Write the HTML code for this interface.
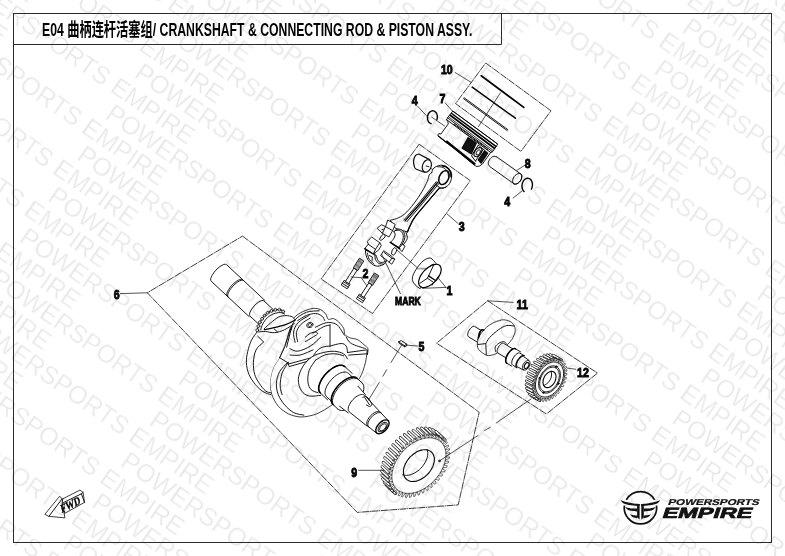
<!DOCTYPE html>
<html><head><meta charset="utf-8"><title>E04</title>
<style>
html,body{margin:0;padding:0;background:#fff;}
body{width:785px;height:556px;overflow:hidden;position:relative;font-family:"Liberation Sans","Noto Sans CJK SC",sans-serif;}
svg{position:absolute;left:0;top:0;}
.dw path{fill:none;stroke:#0c0c0c;stroke-width:0.95;stroke-linejoin:round;stroke-linecap:round;}
.dw path.lw{fill:#fff;}
.dw path.f{fill:#111;}
.dw path.k{stroke:#000;}
.dw path.bx{stroke:#1a1a1a;stroke-width:0.85;stroke-dasharray:7 0.6 1.2 0.6;stroke-linecap:butt;}
.dw path.ld{stroke:#1a1a1a;stroke-width:0.75;}
.dw path.cl{stroke:#1a1a1a;stroke-width:0.75;stroke-dasharray:20 8.5 8 8.5;stroke-linecap:butt;}
.dw text.lb{font-family:"Liberation Sans",sans-serif;font-weight:bold;fill:#000;stroke:#000;stroke-width:0.9px;}
.wm text{font-family:"Liberation Sans",sans-serif;font-size:25px;fill:#000;stroke:#fff;stroke-width:0.35px;}
.wm{opacity:0.095;}
</style></head><body>
<svg width="785" height="556" viewBox="0 0 785 556" style="opacity:0.999">
<g fill="none" stroke="#2a2a2a" stroke-width="1">
<rect x="13.5" y="13.5" width="758" height="529"/>
<path d="M13.5 44.5H501.5V13.5"/>
</g>
<text id="title" transform="translate(42,36) scale(0.662,1)" font-family="'Liberation Sans','Noto Sans CJK SC',sans-serif" font-size="18.5" font-weight="bold" fill="#000">E04 曲柄连杆活塞组/ CRANKSHAFT &amp; CONNECTING ROD &amp; PISTON ASSY.</text>
<g class="dw">
<path class="bx" d="M485.7 63.0 L551.0 110.8 L520.9 151.4 L455.6 103.6Z" />
<path class="bx" d="M419.1 144.2 L470.3 180.7 L372.5 313.5 L321.1 279.0Z" />
<path class="bx" d="M242.5 236.1 L479.2 412.3 L458.2 504.9 L357.2 512.4 L147.3 292.8Z" />
<path class="bx" d="M487.7 300.8 L597.5 373.1 L546.4 414.0 L436.6 343.2Z" />
<path class="k" d="M481.2 75.8 L523.8 107.4" style="stroke-width:1.7"/>
<path class="k" d="M472.2 87.1 L515.4 118.2" style="stroke-width:1.5"/>
<path class="l" d="M464.1 97.7 L507.8 129.6" />
<path class="l" d="M463.5 98.7 L507.2 130.6" />
<path class="ld" d="M500.4 92.8 L478.5 126.5" />
<path class="k" d="M431.1 123.7 C430.9 123.6 430.5 123.5 430.3 123.3 C430.0 123.2 429.8 123.0 429.5 122.8 C429.3 122.7 429.1 122.4 428.9 122.2 C428.7 121.9 428.5 121.7 428.3 121.4 C428.2 121.1 428.0 120.8 427.9 120.4 C427.8 120.1 427.7 119.8 427.6 119.4 C427.5 119.0 427.5 118.7 427.5 118.3 C427.5 117.9 427.5 117.6 427.5 117.2 C427.5 116.8 427.6 116.4 427.6 116.1 C427.7 115.7 427.8 115.3 427.9 115.0 C428.1 114.6 428.2 114.3 428.4 114.0 C428.6 113.6 428.7 113.3 428.9 113.0 C429.1 112.8 429.4 112.5 429.6 112.3 C429.8 112.0 430.1 111.8 430.4 111.6 C430.6 111.5 430.9 111.3 431.2 111.2 C431.4 111.1 431.7 111.0 432.0 110.9 C432.3 110.8 432.6 110.8 432.9 110.8 C433.2 110.8 433.4 110.9 433.7 110.9 C434.0 111.0 434.3 111.1 434.5 111.3 C434.8 111.4 435.0 111.6 435.3 111.8 C435.5 111.9 435.7 112.2 435.9 112.4 C436.1 112.7 436.3 112.9 436.5 113.2 C436.6 113.5 436.8 113.8 436.9 114.2 C437.0 114.5 437.1 114.8 437.2 115.2 C437.3 115.6 437.3 115.9 437.3 116.3 C437.3 116.7 437.3 117.0 437.3 117.4 C437.3 117.8 437.2 118.2 437.2 118.5 C437.1 118.9 436.9 119.4 436.9 119.6" style="stroke-width:1.4"/>
<path class="k" d="M524.1 191.6 C524.0 191.4 523.6 191.1 523.4 190.8 C523.2 190.6 523.0 190.3 522.9 189.9 C522.7 189.6 522.5 189.3 522.4 188.9 C522.3 188.5 522.2 188.1 522.1 187.8 C522.0 187.4 522.0 187.0 522.0 186.5 C521.9 186.1 522.0 185.7 522.0 185.3 C522.0 184.9 522.1 184.5 522.2 184.1 C522.2 183.7 522.4 183.2 522.5 182.9 C522.6 182.5 522.8 182.1 523.0 181.7 C523.1 181.4 523.3 181.0 523.6 180.7 C523.8 180.4 524.0 180.1 524.3 179.8 C524.5 179.6 524.8 179.3 525.1 179.1 C525.3 178.9 525.6 178.8 525.9 178.6 C526.2 178.5 526.5 178.4 526.8 178.3 C527.1 178.3 527.4 178.2 527.7 178.2 C528.1 178.2 528.4 178.3 528.6 178.4 C528.9 178.4 529.2 178.6 529.5 178.7 C529.8 178.8 530.0 179.0 530.3 179.2 C530.5 179.5 530.8 179.7 531.0 180.0 C531.2 180.2 531.4 180.5 531.5 180.9 C531.7 181.2 531.9 181.5 532.0 181.9 C532.1 182.3 532.2 182.7 532.3 183.0 C532.4 183.4 532.4 183.8 532.4 184.3 C532.5 184.7 532.4 185.1 532.4 185.5 C532.4 185.9 532.3 186.3 532.2 186.7 C532.2 187.1 532.0 187.6 531.9 187.9 C531.8 188.3 531.5 188.9 531.4 189.1" style="stroke-width:1.4"/>
<path class="lw" d="M496.7 156.8 L520.7 173.9 L520.7 173.9 C520.8 174.0 521.2 174.3 521.4 174.6 C521.6 174.9 521.7 175.3 521.8 175.6 C521.9 176.0 521.9 176.4 521.8 176.9 C521.8 177.3 521.7 177.8 521.6 178.2 C521.5 178.7 521.3 179.2 521.1 179.6 C520.8 180.1 520.6 180.5 520.3 181.0 C520.0 181.4 519.6 181.8 519.3 182.1 C518.9 182.5 518.5 182.8 518.1 183.1 C517.7 183.4 517.3 183.6 516.9 183.8 C516.5 183.9 516.1 184.1 515.7 184.1 C515.4 184.2 515.0 184.1 514.7 184.1 C514.3 184.0 513.9 183.7 513.8 183.7 L489.7 166.5 L489.7 166.5 C489.5 166.0 488.2 164.4 488.2 163.2 C488.2 162.0 489.0 160.4 489.8 159.2 C490.6 158.1 491.9 156.8 493.1 156.4 C494.2 156.0 496.1 156.7 496.7 156.8" />
<path class="k" d="M513.8 183.7 C513.9 183.7 514.3 184.0 514.7 184.1 C515.0 184.1 515.4 184.2 515.7 184.1 C516.1 184.1 516.5 183.9 516.9 183.8 C517.3 183.6 517.7 183.4 518.1 183.1 C518.5 182.8 518.9 182.5 519.3 182.1 C519.6 181.8 520.0 181.4 520.3 181.0 C520.6 180.5 520.8 180.1 521.1 179.6 C521.3 179.2 521.5 178.7 521.6 178.2 C521.7 177.8 521.8 177.3 521.8 176.9 C521.9 176.4 521.9 176.0 521.8 175.6 C521.7 175.3 521.6 174.9 521.4 174.6 C521.2 174.3 521.0 174.1 520.7 173.9 C520.5 173.7 520.2 173.6 519.8 173.5 C519.5 173.4 519.1 173.4 518.7 173.5 C518.4 173.5 518.0 173.6 517.6 173.8 C517.2 174.0 516.8 174.2 516.4 174.5 C516.0 174.8 515.6 175.1 515.2 175.4 C514.9 175.8 514.5 176.2 514.2 176.6 C513.9 177.1 513.6 177.5 513.4 178.0 C513.2 178.4 513.0 178.9 512.9 179.4 C512.8 179.8 512.7 180.3 512.6 180.7 C512.6 181.1 512.6 181.6 512.7 181.9 C512.8 182.3 512.9 182.7 513.1 183.0 C513.3 183.2 513.6 183.6 513.8 183.7 C513.9 183.8 513.6 183.6 513.8 183.7Z" style="stroke-width:1"/>
<path class="lw" d="M453.1 111.3 L496.8 143.4 L497.4 144.8 L492.3 152.0 L490.9 152.2 L482.5 163.9 L479.5 166.1 L476.1 166.4 L459.8 152.9 L439.2 137.0 L437.9 135.7 L438.2 134.1 L438.9 133.6 L440.8 134.1 L448.3 123.9 L447.8 121.6 L446.6 119.7 L447.3 118.2Z" />
<path class="k" d="M453.1 111.3 L497.6 144.0" style="stroke-width:0.9"/>
<path class="k" d="M451.7 113.5 L495.9 146.3" style="stroke-width:1.5"/>
<path class="k" d="M450.2 115.2 L494.4 148.3" style="stroke-width:1.7"/>
<path class="k" d="M448.6 116.9 L493.0 150.3" style="stroke-width:0.8"/>
<path class="l" d="M447.6 117.9 L492.1 151.5" />
<path class="k" d="M446.8 119.8 L490.7 152.5" style="stroke-width:1.0"/>
<path class="k" d="M453.9 123.8 L488.4 149.7" style="stroke-width:1.3;stroke-dasharray:1.2 0.6;stroke-linecap:butt"/>
<path class="k" d="M446.1 141.1 L475.1 164.5" style="stroke-width:2.4;stroke-linecap:butt"/>
<path class="k" d="M438.6 136.1 L447.2 143.0" style="stroke-width:1.1"/>
<path class="f" d="M468.2 137.8 L476.1 143.1 L471.2 153.6 L462.3 148.1Z" style="stroke-width:1.6"/>
<path class="f" d="M484.6 150.8 L487.6 153.2 L481.1 163.1 L478.3 159.8Z" style="stroke-width:1.4"/>
<path class="k" d="M474.9 156.3 C475.1 156.4 475.6 156.7 476.1 156.7 C476.5 156.7 477.0 156.6 477.5 156.4 C478.1 156.2 478.6 155.8 479.1 155.4 C479.6 155.0 480.1 154.5 480.5 154.0 C480.9 153.4 481.2 152.8 481.4 152.2 C481.7 151.7 481.9 151.0 481.9 150.5 C482.0 149.9 481.9 149.4 481.8 149.0 C481.6 148.5 481.3 148.2 481.0 147.9 C480.7 147.7 480.3 147.6 479.8 147.6 C479.4 147.5 478.9 147.7 478.3 147.9 C477.8 148.1 477.3 148.4 476.8 148.8 C476.3 149.2 475.8 149.8 475.4 150.3 C475.0 150.8 474.7 151.4 474.4 152.0 C474.2 152.6 474.0 153.2 474.0 153.8 C473.9 154.3 474.0 154.9 474.1 155.3 C474.3 155.7 474.7 156.2 474.9 156.3 C475.0 156.5 474.7 156.3 474.9 156.3Z" style="stroke-width:1.1"/>
<path class="k" d="M476.6 154.6 C476.8 154.7 477.2 154.9 477.5 154.8 C477.8 154.8 478.3 154.6 478.6 154.4 C479.0 154.1 479.3 153.7 479.6 153.4 C479.9 153.0 480.1 152.5 480.3 152.1 C480.4 151.7 480.4 151.2 480.4 150.9 C480.3 150.6 480.2 150.3 479.9 150.1 C479.7 149.9 479.4 149.9 479.0 149.9 C478.7 150.0 478.3 150.1 477.9 150.4 C477.6 150.6 477.2 151.0 476.9 151.4 C476.6 151.8 476.4 152.2 476.3 152.6 C476.1 153.0 476.1 153.5 476.2 153.8 C476.2 154.2 476.5 154.5 476.6 154.6 C476.7 154.8 476.5 154.6 476.6 154.6Z" style="stroke-width:1.0"/>
<path class="k" d="M478.3 145.1 L471.5 155.8 L475.8 161.5" style="stroke-width:1.0"/>
<path class="l" d="M478.5 145.2 L484.7 150.4" />
<path class="k" d="M483.1 149.5 L475.7 160.8" style="stroke-width:0.9"/>
<path class="lw" d="M418.8 154.0 C418.3 154.3 416.5 154.3 415.6 155.4 C414.7 156.6 413.7 159.1 413.5 161.0 C413.3 163.0 414.2 166.0 414.6 167.4 C415.1 168.7 416.0 168.9 416.3 169.2 L424.4 172.3 L429.6 159.6Z" style="stroke-width:1.2"/>
<path class="lw" d="M430.9 167.4 C430.6 168.1 430.3 168.8 429.9 169.4 C429.5 170.0 429.0 170.5 428.5 170.9 C428.0 171.4 427.5 171.7 427.0 171.9 C426.4 172.1 425.9 172.2 425.4 172.1 C424.9 172.1 424.4 171.9 424.0 171.6 C423.6 171.3 423.2 170.9 422.9 170.4 C422.6 169.9 422.4 169.3 422.3 168.7 C422.2 168.1 422.2 167.3 422.3 166.6 C422.4 165.9 422.5 165.2 422.8 164.5 C423.0 163.8 423.4 163.1 423.8 162.5 C424.2 161.9 424.7 161.4 425.1 161.0 C425.6 160.5 426.2 160.2 426.7 160.0 C427.2 159.8 427.8 159.7 428.3 159.8 C428.8 159.8 429.3 160.0 429.7 160.3 C430.1 160.6 430.5 161.0 430.7 161.5 C431.0 162.0 431.2 162.6 431.3 163.2 C431.4 163.9 431.4 164.6 431.4 165.3 C431.3 166.0 431.1 166.7 430.9 167.4Z" style="stroke-width:1.1;stroke:#000"/>
<path class="l" d="M426.1 166.0 L428.9 166.7" />
<path class="ld" d="M430.3 168.1 L435.9 171.1" />
<path class="lw" d="M431.7 172.6 C432.1 171.8 432.4 169.3 433.8 168.1 C435.2 166.8 438.1 165.5 440.2 165.3 C442.3 165.0 444.6 165.5 446.5 166.7 C448.3 167.8 450.3 170.3 451.1 172.3 C451.9 174.3 451.8 176.5 451.4 178.6 C451.0 180.7 450.0 183.3 448.6 184.9 C447.2 186.5 443.9 187.8 443.0 188.4 L439.3 188.1 L439.3 188.1 C437.4 190.3 432.3 196.3 428.2 201.2 C424.1 206.0 417.9 213.0 414.9 217.1 C411.9 221.1 411.5 222.8 410.3 225.3 C409.0 227.8 407.9 230.9 407.5 232.0 L395.4 228.3 L390.3 220.1 L390.3 220.1 C391.3 219.9 394.0 219.6 396.4 218.6 C398.8 217.6 401.7 216.5 404.6 214.0 C407.5 211.5 410.9 207.5 413.8 203.7 C416.8 200.0 419.8 195.2 422.1 191.4 C424.3 187.6 426.2 183.9 427.4 181.2 C428.6 178.4 428.5 176.4 429.2 175.0 C430.0 173.6 431.3 173.0 431.7 172.6Z" />
<path class="k" d="M439.3 188.1 C437.4 190.3 432.3 196.3 428.2 201.2 C424.1 206.0 417.9 213.0 414.9 217.1 C411.9 221.1 411.5 222.8 410.3 225.3 C409.0 227.8 407.9 230.9 407.5 232.0" style="stroke-width:1.3"/>
<path class="lw" d="M448.1 179.5 C447.8 180.3 447.3 181.1 446.8 181.7 C446.3 182.3 445.7 182.9 445.2 183.3 C444.6 183.8 443.9 184.1 443.4 184.3 C442.8 184.5 442.2 184.5 441.6 184.5 C441.1 184.4 440.6 184.1 440.2 183.8 C439.8 183.4 439.4 182.9 439.2 182.4 C439.0 181.8 438.8 181.1 438.8 180.4 C438.7 179.6 438.8 178.8 439.0 178.0 C439.1 177.3 439.4 176.4 439.8 175.7 C440.1 174.9 440.6 174.1 441.1 173.5 C441.6 172.9 442.2 172.3 442.7 171.9 C443.3 171.4 443.9 171.1 444.5 170.9 C445.1 170.7 445.7 170.7 446.3 170.8 C446.8 170.8 447.3 171.1 447.7 171.4 C448.1 171.8 448.5 172.3 448.7 172.8 C448.9 173.4 449.1 174.1 449.1 174.8 C449.2 175.6 449.1 176.4 448.9 177.2 C448.7 178.0 448.5 178.8 448.1 179.5Z" style="stroke-width:1.5;stroke:#000"/>
<path class="l" d="M437.3 166.7 C438.3 166.8 441.3 166.7 443.0 167.5 C444.6 168.3 446.5 169.8 447.5 171.6 C448.4 173.3 448.4 176.8 448.6 177.9" />
<path class="k" d="M442.3 165.8 C443.0 166.1 445.5 166.3 446.9 167.4 C448.3 168.4 449.8 170.4 450.5 172.0 C451.2 173.6 451.0 176.0 451.1 176.8" style="stroke-width:1.6"/>
<path class="l" d="M435.9 184.6 C436.6 185.1 438.5 187.2 440.2 187.7 C441.8 188.2 444.8 187.5 445.8 187.4" />
<path class="k" d="M437.6 182.4 L421.0 202.7 L405.1 220.9" style="stroke-width:1.4"/>
<path class="l" d="M439.0 183.4 L422.3 203.7 L406.9 221.7" />
<path class="l" d="M436.2 181.8 L419.8 201.9 L403.8 220.1" />
<path class="lw" d="M377.4 228.1 L381.3 224.7 L385.5 226.6 L387.8 220.0 L395.2 224.3 L392.9 230.1 L389.0 237.0 L382.4 233.2Z" style="stroke-width:0.9"/>
<path class="l" d="M385.5 226.6 L392.5 230.5" />
<path class="k" d="M382.0 229.7 L383.2 229.2" style="stroke-width:1"/>
<path class="l" d="M385.5 226.6 L382.4 233.2" />
<path class="lw" d="M394.0 231.6 C394.4 231.3 395.3 230.1 396.3 229.7 C397.4 229.3 399.0 228.9 400.2 229.3 C401.4 229.7 402.9 230.7 403.7 232.0 C404.5 233.4 405.0 235.6 404.9 237.4 C404.7 239.2 403.8 241.1 402.9 242.8 C402.0 244.6 400.0 247.0 399.4 247.9 L390.5 242.5 L390.5 242.5 C391.1 241.7 393.3 239.6 394.0 238.2 C394.8 236.8 395.2 235.4 395.2 234.3 C395.2 233.2 394.2 232.1 394.0 231.6Z" style="stroke-width:1"/>
<path class="l" d="M395.2 230.5 C395.9 230.5 398.2 230.0 399.4 230.5 C400.7 230.9 401.9 232.0 402.5 233.2 C403.2 234.4 403.5 236.1 403.3 237.8 C403.1 239.5 402.2 241.7 401.4 243.2 C400.6 244.8 399.1 246.5 398.7 247.1" />
<path class="k" d="M405.6 231.6 C405.9 232.6 407.3 235.8 407.3 237.4 C407.3 239.1 406.5 240.3 405.6 241.7 C404.8 243.1 402.9 245.2 402.4 245.9" style="stroke-width:1"/>
<path class="lw" d="M399.1 247.9 L402.2 244.4 L405.1 246.1 L402.2 251.3Z" style="stroke-width:0.9"/>
<path class="k" d="M390.3 242.3 L399.6 248.6" style="stroke-width:1.6"/>
<path class="lw" d="M382.0 235.3 L383.6 234.3 L385.5 235.9 L384.0 238.2 L380.9 240.5 L379.7 239.6Z" />
<path class="lw" d="M392.5 249.8 L394.4 247.5 L397.1 249.4 L395.2 253.7 L393.3 255.2 L391.7 254.1Z" />
<path class="lw" d="M367.4 241.2 L371.7 237.0 L379.8 242.8 L381.3 245.5 L378.6 250.1 L373.2 254.0 L364.7 248.6 L368.2 244.3Z" style="stroke-width:0.9"/>
<path class="l" d="M368.2 244.3 L375.5 249.3 L379.8 242.8" />
<path class="l" d="M375.5 249.3 L373.2 254.0" />
<path class="k" d="M364.7 248.7 L373.2 254.1" style="stroke-width:1.5"/>
<path class="lw" d="M365.5 250.3 C365.5 251.0 365.4 253.1 365.9 254.7 C366.3 256.4 367.1 258.6 368.2 260.2 C369.3 261.8 370.8 263.4 372.4 264.4 C374.0 265.4 375.9 266.2 377.8 266.2 C379.8 266.2 383.0 264.7 384.0 264.4 L387.1 260.2 L387.1 260.2 C386.3 260.5 384.0 262.4 382.5 262.5 C381.0 262.6 379.3 262.1 378.2 260.9 C377.2 259.8 376.6 256.4 376.3 255.5 L373.2 254.1Z" style="stroke-width:1"/>
<path class="l" d="M374.7 253.2 C374.9 254.2 374.9 257.7 375.5 259.4 C376.2 261.1 377.3 262.5 378.6 263.3 C379.9 264.0 382.5 263.9 383.3 264.0" />
<path class="l" d="M367.4 253.2 C367.7 254.2 368.2 257.6 369.3 259.4 C370.4 261.2 373.2 263.3 374.0 264.0" />
<path class="l" d="M369.3 255.5 L372.4 257.1 L372.0 260.9" />
<path class="lw" d="M384.0 250.9 L391.8 256.3 L394.7 259.2 L391.8 264.2 L389.1 262.3 L387.1 260.3 L380.9 255.9Z" style="stroke-width:0.9"/>
<path class="l" d="M389.1 262.3 L391.8 258.2 L394.7 259.2" />
<path class="l" d="M391.8 258.2 L384.0 252.4" />
<path class="lw" d="M435.9 263.3 C435.0 262.4 432.5 258.7 430.5 258.1 C428.6 257.6 426.3 258.8 424.3 260.1 C422.4 261.3 420.7 263.3 418.9 265.5 C417.2 267.7 415.0 270.9 413.9 273.2 C412.8 275.5 412.2 277.5 412.3 279.4 C412.5 281.3 413.8 283.3 415.1 284.8 C416.3 286.3 419.2 288.0 420.1 288.7 L429.7 275.9Z" />
<path class="lw" d="M439.7 265.5 C440.2 266.0 440.6 266.6 440.8 267.2 C441.1 267.9 441.2 268.7 441.2 269.5 C441.2 270.4 441.0 271.3 440.8 272.3 C440.5 273.2 440.1 274.2 439.6 275.2 C439.1 276.2 438.5 277.3 437.8 278.3 C437.1 279.2 436.3 280.2 435.4 281.1 C434.6 282.0 433.6 282.9 432.7 283.6 C431.8 284.4 430.7 285.1 429.8 285.6 C428.8 286.2 427.8 286.6 426.9 286.9 C425.9 287.3 425.0 287.5 424.2 287.5 C423.3 287.6 422.5 287.5 421.8 287.3 C421.2 287.1 420.6 286.7 420.1 286.3 C419.6 285.8 419.2 285.3 419.0 284.6 C418.7 283.9 418.6 283.1 418.6 282.3 C418.6 281.5 418.8 280.5 419.1 279.6 C419.3 278.6 419.7 277.6 420.2 276.6 C420.7 275.6 421.3 274.5 422.0 273.6 C422.7 272.6 423.5 271.6 424.4 270.7 C425.2 269.8 426.2 268.9 427.1 268.2 C428.1 267.4 429.1 266.7 430.0 266.2 C431.0 265.6 432.0 265.2 432.9 264.9 C433.9 264.6 434.8 264.4 435.7 264.3 C436.5 264.2 437.3 264.3 438.0 264.5 C438.6 264.7 439.3 265.1 439.7 265.5Z" style="stroke-width:1.2;stroke:#000"/>
<path class="l" d="M434.0 264.3 L428.6 275.9" />
<path class="k" d="M428.6 275.9 L435.5 280.5" style="stroke-width:1.3"/>
<path class="l" d="M435.5 280.5 L439.0 275.5" />
<path class="l" d="M419.8 283.4 L427.4 278.2 L433.8 282.5 L432.1 285.2" />
<path class="l" d="M427.4 278.2 L428.6 275.9" />
<path class="l" d="M425.5 269.3 L433.2 264.3" />
<path class="k" d="M417.4 268.6 L426.7 268.6" style="stroke-width:1.6;stroke-dasharray:0.5 0.4;stroke-linecap:butt;stroke:#555"/>
<path class="lw" d="M341.4 284.7 L344.2 280.3 L350.2 284.1 L347.4 288.5Z" style="stroke-width:0.9"/>
<path class="l" d="M342.2 283.3 L348.3 287.2" />
<path class="l" d="M343.3 281.6 L349.4 285.5" />
<path class="lw" d="M345.6 281.2 L354.1 267.9 L357.3 269.9 L348.8 283.2Z" />
<path class="lw" d="M353.5 267.5 L359.4 258.2 L363.8 261.0 L357.9 270.3Z" />
<path class="k" d="M355.7 268.9 L361.6 259.6" style="stroke-width:4.6;stroke-dasharray:0.5 0.45;stroke-linecap:butt;stroke:#333"/>
<path class="lw" d="M356.6 298.4 L359.4 294.1 L365.5 298.0 L362.6 302.4Z" style="stroke-width:0.9"/>
<path class="l" d="M357.5 297.1 L363.5 301.0" />
<path class="l" d="M358.6 295.4 L364.6 299.4" />
<path class="lw" d="M360.9 295.0 L369.0 282.6 L372.2 284.6 L364.0 297.1Z" />
<path class="lw" d="M368.4 282.2 L374.4 273.0 L378.8 275.8 L372.8 285.0Z" />
<path class="k" d="M370.6 283.6 L376.6 274.4" style="stroke-width:4.6;stroke-dasharray:0.5 0.45;stroke-linecap:butt;stroke:#333"/>
<path class="lw" d="M291.1 327.6 C289.7 331.9 286.4 342.0 284.7 346.5 C283.0 351.0 281.3 354.5 279.6 357.7 C277.9 360.9 274.6 364.2 273.2 367.9 C271.8 371.5 270.2 377.9 270.0 381.9 C269.8 386.0 270.7 391.1 271.9 394.7 C273.2 398.3 275.8 403.3 278.3 406.2 C280.8 409.1 285.1 412.2 288.5 413.9 C292.0 415.5 297.1 417.0 301.3 417.0 C305.5 417.0 312.0 415.7 316.6 413.9 C321.2 412.0 327.5 408.2 332.0 404.9 C336.4 401.7 342.0 396.2 346.2 392.1 C350.3 388.1 356.7 382.5 359.6 378.1 C362.5 373.7 364.2 367.0 365.4 362.8 C366.5 358.6 367.0 351.2 367.3 350.0 C367.6 348.8 367.2 355.2 367.3 355.0 C367.4 354.8 368.4 350.2 367.9 348.6 C367.4 347.1 365.6 346.1 364.1 344.8 C362.5 343.5 359.8 340.8 357.7 339.7 C355.6 338.6 351.9 338.6 350.0 337.8 C348.1 337.0 345.9 336.0 344.9 334.6 C344.0 333.2 344.6 330.1 343.6 328.2 C342.7 326.3 340.1 323.3 338.5 321.8 C337.0 320.4 335.0 319.0 333.4 318.6 C331.9 318.2 329.5 319.9 328.3 319.3 C327.2 318.6 326.9 315.6 325.8 314.2 C324.6 312.7 322.6 310.5 320.7 309.7 C318.7 308.8 315.7 308.1 313.0 308.4 C310.3 308.7 305.6 310.2 302.8 311.6 C299.9 313.0 295.6 315.6 293.8 318.0 C292.1 320.4 292.5 323.3 291.1 327.6Z" style="stroke-width:0.8"/>
<path class="lw" d="M264.6 300.2 L226.6 264.7 L226.6 264.7 C226.4 264.6 226.0 264.3 225.6 264.3 C225.2 264.2 224.7 264.3 224.1 264.4 C223.5 264.6 222.9 264.8 222.3 265.2 C221.6 265.5 220.9 265.9 220.2 266.4 C219.5 266.9 218.7 267.5 218.0 268.1 C217.3 268.8 216.6 269.5 215.9 270.2 C215.3 270.9 214.6 271.7 214.0 272.4 C213.5 273.2 212.9 274.0 212.5 274.7 C212.0 275.4 211.6 276.2 211.4 276.8 C211.1 277.5 210.9 278.2 210.7 278.7 C210.6 279.3 210.6 279.8 210.7 280.2 C210.8 280.6 211.1 281.1 211.2 281.2 L249.2 316.7Z" style="stroke:none"/>
<path class="l" d="M264.6 300.2 L226.6 264.7 L226.6 264.7 C226.4 264.6 226.0 264.3 225.6 264.3 C225.2 264.2 224.7 264.3 224.1 264.4 C223.5 264.6 222.9 264.8 222.3 265.2 C221.6 265.5 220.9 265.9 220.2 266.4 C219.5 266.9 218.7 267.5 218.0 268.1 C217.3 268.8 216.6 269.5 215.9 270.2 C215.3 270.9 214.6 271.7 214.0 272.4 C213.5 273.2 212.9 274.0 212.5 274.7 C212.0 275.4 211.6 276.2 211.4 276.8 C211.1 277.5 210.9 278.2 210.7 278.7 C210.6 279.3 210.6 279.8 210.7 280.2 C210.8 280.6 211.1 281.1 211.2 281.2 L249.2 316.7" />
<path class="l" d="M227.3 296.2 C227.2 296.1 226.9 295.6 226.8 295.2 C226.7 294.8 226.7 294.3 226.8 293.7 C226.9 293.2 227.2 292.5 227.4 291.8 C227.7 291.2 228.1 290.4 228.6 289.7 C229.0 289.0 229.6 288.2 230.1 287.4 C230.7 286.7 231.4 285.9 232.0 285.2 C232.7 284.5 233.4 283.8 234.1 283.1 C234.8 282.5 235.6 281.9 236.3 281.4 C237.0 280.9 237.7 280.5 238.3 280.2 C239.0 279.8 239.6 279.6 240.2 279.4 C240.7 279.3 241.3 279.2 241.7 279.3 C242.1 279.3 242.5 279.6 242.7 279.7" />
<path class="l" d="M228.2 297.1 C228.2 296.9 227.8 296.5 227.7 296.1 C227.7 295.7 227.7 295.2 227.8 294.6 C227.9 294.1 228.1 293.4 228.4 292.7 C228.7 292.1 229.1 291.3 229.5 290.6 C230.0 289.8 230.5 289.1 231.1 288.3 C231.7 287.6 232.3 286.8 233.0 286.1 C233.6 285.4 234.4 284.7 235.1 284.0 C235.8 283.4 236.5 282.8 237.2 282.3 C237.9 281.8 238.6 281.4 239.3 281.0 C239.9 280.7 240.6 280.5 241.1 280.3 C241.7 280.2 242.2 280.1 242.6 280.2 C243.0 280.2 243.5 280.5 243.7 280.6" />
<path class="lw" d="M272.7 309.1 L264.0 300.9 L264.0 300.9 C263.8 300.8 263.4 300.5 263.0 300.5 C262.6 300.5 262.2 300.5 261.7 300.6 C261.2 300.8 260.6 301.0 260.0 301.3 C259.4 301.6 258.7 302.0 258.1 302.5 C257.5 302.9 256.8 303.5 256.1 304.0 C255.5 304.6 254.8 305.2 254.2 305.9 C253.6 306.5 253.0 307.2 252.5 307.9 C252.0 308.6 251.5 309.3 251.1 310.0 C250.7 310.7 250.3 311.3 250.1 312.0 C249.8 312.6 249.6 313.2 249.5 313.7 C249.4 314.2 249.4 314.7 249.5 315.0 C249.5 315.4 249.8 315.8 249.9 316.0 L258.7 324.1Z" style="stroke:none"/>
<path class="l" d="M272.7 309.1 L264.0 300.9 L264.0 300.9 C263.8 300.8 263.4 300.5 263.0 300.5 C262.6 300.5 262.2 300.5 261.7 300.6 C261.2 300.8 260.6 301.0 260.0 301.3 C259.4 301.6 258.7 302.0 258.1 302.5 C257.5 302.9 256.8 303.5 256.1 304.0 C255.5 304.6 254.8 305.2 254.2 305.9 C253.6 306.5 253.0 307.2 252.5 307.9 C252.0 308.6 251.5 309.3 251.1 310.0 C250.7 310.7 250.3 311.3 250.1 312.0 C249.8 312.6 249.6 313.2 249.5 313.7 C249.4 314.2 249.4 314.7 249.5 315.0 C249.5 315.4 249.8 315.8 249.9 316.0 L258.7 324.1" />
<path class="lw" d="M257.2 330.2 C257.6 329.1 258.2 325.7 259.2 323.5 C260.1 321.4 261.6 319.2 263.0 317.4 C264.4 315.6 265.8 314.1 267.5 312.9 C269.2 311.8 271.3 310.8 273.2 310.3 C275.1 309.7 277.3 309.3 279.0 309.5 C280.6 309.7 282.5 311.2 283.2 311.5 L291.1 318.4 L265.5 328.7Z" style="stroke:none"/>
<path class="k" d="M257.2 330.2 C257.6 329.1 258.2 325.7 259.2 323.5 C260.1 321.4 261.6 319.2 263.0 317.4 C264.4 315.6 265.8 314.1 267.5 312.9 C269.2 311.8 271.3 310.8 273.2 310.3 C275.1 309.7 277.3 309.3 279.0 309.5 C280.6 309.7 282.5 311.2 283.2 311.5" style="stroke-width:1.0"/>
<path class="lw" d="M258.7 330.2 C258.7 330.5 258.5 331.0 258.3 331.2 C258.0 331.5 257.6 331.6 257.2 331.6 C256.9 331.6 256.5 331.5 256.2 331.2 C256.0 331.0 255.8 330.5 255.8 330.2 C255.8 329.8 256.0 329.4 256.2 329.2 C256.5 328.9 256.9 328.7 257.2 328.7 C257.6 328.7 258.0 328.9 258.3 329.2 C258.5 329.4 258.7 329.8 258.7 330.2Z" style="stroke-width:0.9;stroke:#111;fill:#ddd"/>
<path class="lw" d="M259.8 326.2 C259.8 326.5 259.6 327.0 259.3 327.2 C259.1 327.4 258.7 327.6 258.3 327.6 C258.0 327.6 257.5 327.4 257.3 327.2 C257.0 327.0 256.9 326.5 256.9 326.2 C256.9 325.8 257.0 325.4 257.3 325.2 C257.5 324.9 258.0 324.7 258.3 324.7 C258.7 324.7 259.1 324.9 259.3 325.2 C259.6 325.4 259.8 325.8 259.8 326.2Z" style="stroke-width:0.9;stroke:#111;fill:#ddd"/>
<path class="lw" d="M261.3 322.3 C261.3 322.7 261.1 323.1 260.9 323.4 C260.6 323.6 260.2 323.8 259.8 323.8 C259.5 323.8 259.1 323.6 258.8 323.4 C258.6 323.1 258.4 322.7 258.4 322.3 C258.4 322.0 258.6 321.5 258.8 321.3 C259.1 321.1 259.5 320.9 259.8 320.9 C260.2 320.9 260.6 321.1 260.9 321.3 C261.1 321.5 261.3 322.0 261.3 322.3Z" style="stroke-width:0.9;stroke:#111;fill:#ddd"/>
<path class="lw" d="M263.5 318.8 C263.5 319.2 263.3 319.6 263.0 319.8 C262.8 320.1 262.4 320.3 262.0 320.3 C261.7 320.3 261.2 320.1 261.0 319.8 C260.8 319.6 260.6 319.2 260.6 318.8 C260.6 318.5 260.8 318.0 261.0 317.8 C261.2 317.5 261.7 317.4 262.0 317.4 C262.4 317.4 262.8 317.5 263.0 317.8 C263.3 318.0 263.5 318.5 263.5 318.8Z" style="stroke-width:0.9;stroke:#111;fill:#ddd"/>
<path class="lw" d="M266.1 315.6 C266.1 315.9 265.9 316.4 265.6 316.6 C265.4 316.9 265.0 317.0 264.6 317.0 C264.3 317.0 263.8 316.9 263.6 316.6 C263.4 316.4 263.2 315.9 263.2 315.6 C263.2 315.2 263.4 314.8 263.6 314.6 C263.8 314.3 264.3 314.1 264.6 314.1 C265.0 314.1 265.4 314.3 265.6 314.6 C265.9 314.8 266.1 315.2 266.1 315.6Z" style="stroke-width:0.9;stroke:#111;fill:#ddd"/>
<path class="lw" d="M269.1 312.8 C269.1 313.2 269.0 313.6 268.7 313.8 C268.5 314.1 268.0 314.3 267.7 314.3 C267.4 314.3 266.9 314.1 266.7 313.8 C266.4 313.6 266.2 313.2 266.2 312.8 C266.2 312.5 266.4 312.0 266.7 311.8 C266.9 311.5 267.4 311.4 267.7 311.4 C268.0 311.4 268.5 311.5 268.7 311.8 C269.0 312.0 269.1 312.5 269.1 312.8Z" style="stroke-width:0.9;stroke:#111;fill:#ddd"/>
<path class="lw" d="M272.9 311.0 C272.9 311.3 272.7 311.7 272.4 312.0 C272.2 312.2 271.7 312.4 271.4 312.4 C271.1 312.4 270.6 312.2 270.4 312.0 C270.1 311.7 270.0 311.3 270.0 311.0 C270.0 310.6 270.1 310.2 270.4 309.9 C270.6 309.7 271.1 309.5 271.4 309.5 C271.7 309.5 272.2 309.7 272.4 309.9 C272.7 310.2 272.9 310.6 272.9 311.0Z" style="stroke-width:0.9;stroke:#111;fill:#ddd"/>
<path class="lw" d="M276.8 309.9 C276.8 310.2 276.7 310.6 276.4 310.9 C276.2 311.1 275.7 311.3 275.4 311.3 C275.0 311.3 274.6 311.1 274.4 310.9 C274.1 310.6 273.9 310.2 273.9 309.9 C273.9 309.5 274.1 309.1 274.4 308.8 C274.6 308.6 275.0 308.4 275.4 308.4 C275.7 308.4 276.2 308.6 276.4 308.8 C276.7 309.1 276.8 309.5 276.8 309.9Z" style="stroke-width:0.9;stroke:#111;fill:#ddd"/>
<path class="lw" d="M280.9 309.7 C280.9 310.0 280.7 310.5 280.5 310.7 C280.3 310.9 279.8 311.1 279.5 311.1 C279.1 311.1 278.7 310.9 278.5 310.7 C278.2 310.5 278.0 310.0 278.0 309.7 C278.0 309.3 278.2 308.9 278.5 308.7 C278.7 308.4 279.1 308.2 279.5 308.2 C279.8 308.2 280.3 308.4 280.5 308.7 C280.7 308.9 280.9 309.3 280.9 309.7Z" style="stroke-width:0.9;stroke:#111;fill:#ddd"/>
<path class="lw" d="M284.6 311.5 C284.6 311.9 284.4 312.3 284.2 312.6 C284.0 312.8 283.5 313.0 283.2 313.0 C282.8 313.0 282.4 312.8 282.1 312.6 C281.9 312.3 281.7 311.9 281.7 311.5 C281.7 311.2 281.9 310.8 282.1 310.5 C282.4 310.3 282.8 310.1 283.2 310.1 C283.5 310.1 284.0 310.3 284.2 310.5 C284.4 310.8 284.6 311.2 284.6 311.5Z" style="stroke-width:0.9;stroke:#111;fill:#ddd"/>
<path class="l" d="M260.4 331.5 C260.7 330.5 261.1 327.4 262.0 325.5 C262.8 323.5 264.2 321.4 265.5 319.7 C266.9 318.1 268.3 316.7 270.0 315.6 C271.7 314.5 274.0 313.6 275.8 313.1 C277.6 312.6 279.4 312.4 280.9 312.6 C282.4 312.7 284.1 313.7 284.7 314.0" />
<path class="lw" d="M257.2 331.8 C256.3 333.2 253.1 336.8 251.5 340.1 C249.9 343.4 248.5 347.9 247.7 351.6 C246.8 355.4 246.2 359.0 246.4 362.8 C246.6 366.5 247.4 370.6 248.9 374.3 C250.4 377.9 253.0 381.6 255.3 384.5 C257.7 387.4 260.4 389.8 263.0 391.5 C265.5 393.2 269.4 394.2 270.7 394.7 L270.7 392.8 L270.7 392.8 C270.5 391.0 269.6 386.1 270.0 381.9 C270.4 377.8 271.6 371.9 273.2 367.9 C274.8 363.8 277.7 361.2 279.6 357.7 C281.5 354.1 282.9 351.5 284.7 346.5 C286.5 341.5 288.9 331.5 290.4 327.6 C292.0 323.8 293.5 324.8 294.3 323.5 C295.1 322.3 295.0 320.6 295.2 320.0 L295.2 320.0 C294.7 319.5 293.9 317.6 292.4 316.9 C290.8 316.2 288.3 315.6 286.0 315.6 C283.6 315.7 280.9 315.9 278.3 317.2 C275.8 318.4 273.0 321.0 270.7 322.9 C268.3 324.8 265.3 327.7 264.3 328.7 L257.2 331.8Z" style="stroke:none"/>
<path class="k" d="M257.2 331.8 C256.3 333.2 253.1 336.8 251.5 340.1 C249.9 343.4 248.5 347.9 247.7 351.6 C246.8 355.4 246.2 359.0 246.4 362.8 C246.6 366.5 247.4 370.6 248.9 374.3 C250.4 377.9 253.0 381.6 255.3 384.5 C257.7 387.4 260.4 389.8 263.0 391.5 C265.5 393.2 269.4 394.2 270.7 394.7" style="stroke-width:0.9"/>
<path class="l" d="M270.7 392.8 C269.8 392.5 267.5 392.5 265.5 390.9 C263.6 389.3 261.0 386.0 259.2 383.2 C257.3 380.4 255.6 377.7 254.7 374.3 C253.7 370.9 253.2 366.8 253.4 362.8 C253.6 358.7 254.3 353.5 256.0 350.0 C257.7 346.5 262.3 343.4 263.6 342.1" />
<path class="k" d="M264.3 328.7 C265.3 327.7 268.3 324.8 270.7 322.9 C273.0 321.0 275.8 318.4 278.3 317.2 C280.9 315.9 283.6 315.7 286.0 315.6 C288.3 315.6 290.8 316.2 292.4 316.9 C293.9 317.6 294.7 319.5 295.2 320.0" style="stroke-width:0.9"/>
<path class="k" d="M295.2 320.0 C294.1 320.6 291.3 322.4 288.5 323.5 C285.7 324.7 282.4 325.7 278.3 326.7 C274.3 327.8 266.6 329.2 264.3 329.7" style="stroke-width:1.2"/>
<path class="l" d="M294.3 323.5 C292.7 324.6 288.0 328.1 284.7 329.7 C281.4 331.2 277.7 332.4 274.5 332.7 C271.3 333.0 268.3 331.6 265.5 331.5 C262.8 331.3 259.2 331.9 257.9 332.0" />
<path class="l" d="M257.6 336.1 L263.4 341.7" />
<path class="l" d="M274.2 329.0 L277.7 332.2" />
<path class="l" d="M290.4 327.6 L284.7 346.5 L279.6 357.7" />
<path class="l" d="M291.7 326.7 L286.6 347.2" />
<path class="l" d="M297.7 320.5 C299.2 319.7 303.6 316.6 306.6 315.4 C309.6 314.3 313.0 313.4 315.5 313.5 C318.1 313.6 320.4 314.9 321.9 316.1 C323.5 317.2 324.3 319.8 324.7 320.5" />
<path class="l" d="M295.1 342.3 C294.9 340.6 293.0 335.3 293.6 332.0 C294.1 328.7 295.7 325.2 298.3 322.5 C300.9 319.7 307.3 316.6 309.2 315.4" />
<path class="l" d="M297.7 341.6 C297.4 340.1 295.9 335.5 296.4 332.7 C296.9 329.8 298.5 326.8 300.9 324.4 C303.2 321.9 308.8 319.1 310.4 318.0" />
<path class="l" d="M291.1 329.9 C291.7 328.3 292.4 322.9 294.9 320.0 C297.5 317.0 302.4 313.8 306.4 312.3 C310.5 310.8 317.1 311.0 319.2 310.8" />
<path class="l" d="M312.8 323.9 C312.9 324.3 313.0 324.8 312.8 325.2 C312.7 325.7 312.4 326.1 312.0 326.5 C311.7 326.9 311.2 327.2 310.7 327.4 C310.1 327.5 309.5 327.6 309.0 327.6 C308.5 327.6 308.0 327.4 307.6 327.1 C307.2 326.9 306.9 326.5 306.8 326.1 C306.6 325.7 306.6 325.2 306.8 324.8 C306.9 324.4 307.2 323.9 307.6 323.5 C307.9 323.2 308.4 322.8 308.9 322.7 C309.4 322.5 310.1 322.4 310.6 322.4 C311.1 322.5 311.6 322.6 312.0 322.9 C312.3 323.1 312.7 323.5 312.8 323.9Z" />
<path class="l" d="M311.5 324.4 C311.6 324.6 311.6 324.9 311.5 325.1 C311.4 325.4 311.3 325.6 311.1 325.8 C310.9 326.0 310.6 326.2 310.3 326.3 C310.0 326.4 309.6 326.5 309.4 326.5 C309.1 326.4 308.8 326.3 308.6 326.2 C308.4 326.1 308.2 325.8 308.1 325.6 C308.0 325.4 308.0 325.1 308.1 324.9 C308.2 324.6 308.3 324.4 308.5 324.2 C308.7 324.0 309.0 323.8 309.3 323.7 C309.6 323.6 309.9 323.5 310.2 323.6 C310.5 323.6 310.8 323.7 311.0 323.8 C311.2 324.0 311.4 324.2 311.5 324.4Z" />
<path class="k" d="M330.0 325.0 L330.0 346.1" style="stroke-width:0.9"/>
<path class="l" d="M315.5 327.2 C316.8 326.6 320.8 324.5 323.2 323.7 C325.6 322.9 327.6 322.2 330.0 322.5 C332.3 322.7 335.2 323.4 337.3 325.0 C339.3 326.6 341.2 330.3 342.4 332.0 C343.5 333.7 344.0 334.7 344.3 335.2" />
<path class="l" d="M305.3 337.1 C306.2 336.5 308.7 334.2 310.4 333.3 C312.1 332.5 314.4 331.9 315.5 332.0 C316.7 332.1 318.1 333.0 317.5 334.0 C316.8 334.9 313.7 336.5 311.7 337.8 C309.7 339.1 306.4 341.0 305.3 341.6" />
<path class="l" d="M313.0 333.3 C314.7 332.2 320.4 328.3 323.2 326.9 C326.0 325.5 328.8 325.3 330.0 325.0" />
<path class="l" d="M346.2 337.1 C347.0 338.2 348.1 341.6 351.3 343.5 C354.5 345.4 363.0 347.8 365.4 348.6" />
<path class="l" d="M347.5 352.5 L366.6 349.9" />
<path class="l" d="M347.5 352.5 C347.3 351.4 347.3 347.6 346.2 346.1 C345.1 344.6 343.8 343.5 341.1 343.5 C338.4 343.5 331.8 345.7 330.0 346.1" />
<path class="l" d="M330.0 346.1 C328.6 346.3 324.3 346.3 321.9 347.4 C319.5 348.4 317.2 350.3 315.5 352.5 C313.8 354.6 312.3 358.9 311.7 360.1" />
<path class="l" d="M290.0 348.6 C291.3 349.1 294.3 351.6 297.7 351.2 C301.1 350.8 306.6 348.4 310.4 346.1 C314.3 343.7 318.9 338.6 320.7 337.1" />
<path class="l" d="M290.0 355.0 C291.7 355.0 296.4 355.9 300.2 355.0 C304.0 354.2 310.9 350.8 313.0 349.9" />
<path class="l" d="M287.3 362.8 C286.0 364.3 281.4 368.3 279.6 371.7 C277.8 375.1 276.6 379.4 276.4 383.2 C276.2 387.0 276.9 391.1 278.3 394.7 C279.7 398.3 282.1 401.9 284.7 404.9 C287.3 407.9 290.4 410.9 293.6 412.6 C296.8 414.3 302.2 414.7 303.9 415.1" />
<path class="l" d="M288.5 362.1 C287.5 363.9 283.5 369.1 282.1 373.0 C280.8 376.9 280.2 382.1 280.2 385.8 C280.2 389.4 281.8 393.2 282.1 394.7" />
<path class="l" d="M279.6 357.7 L287.9 362.8" />
<path class="l" d="M288.5 364.0 L311.5 357.7" />
<path class="l" d="M287.9 362.8 L289.2 366.6 L311.5 360.2" />
<path class="lw" d="M347.5 358.9 C346.8 358.1 345.8 355.1 343.6 353.8 C341.5 352.6 338.1 351.5 334.7 351.3 C331.3 351.1 327.0 351.6 323.2 352.6 C319.4 353.5 313.6 356.3 311.7 357.0 L311.7 357.0 C310.2 358.6 305.0 362.9 302.8 366.6 C300.5 370.3 298.5 375.3 298.3 379.4 C298.1 383.4 299.7 388.1 301.5 390.9 C303.3 393.6 306.0 395.2 309.2 396.0 C312.3 396.7 318.7 395.4 320.7 395.3 L343.6 365.3Z" style="stroke:none"/>
<path class="l" d="M347.5 358.9 C346.8 358.1 345.8 355.1 343.6 353.8 C341.5 352.6 338.1 351.5 334.7 351.3 C331.3 351.1 327.0 351.6 323.2 352.6 C319.4 353.5 315.1 354.7 311.7 357.0 C308.3 359.4 305.0 362.9 302.8 366.6 C300.5 370.3 298.5 375.3 298.3 379.4 C298.1 383.4 299.7 388.1 301.5 390.9 C303.3 393.6 306.0 395.2 309.2 396.0 C312.3 396.7 318.7 395.4 320.7 395.3" />
<path class="l" d="M315.5 360.2 C314.5 361.9 310.4 366.8 309.2 370.4 C307.9 374.1 307.6 378.7 307.9 381.9 C308.2 385.1 309.4 387.8 311.1 389.6 C312.8 391.4 316.9 392.3 318.1 392.8" />
<path class="l" d="M343.6 355.7 C342.1 355.4 337.9 353.9 334.7 353.8 C331.5 353.7 327.7 354.0 324.5 355.1 C321.3 356.2 317.0 359.4 315.5 360.2" />
<path class="l" d="M348.7 355.1 L366.6 353.8" />
<path class="lw" d="M352.2 373.4 L344.9 366.6 L344.9 366.6 C344.5 366.4 343.6 365.7 342.7 365.5 C341.9 365.3 341.0 365.2 339.9 365.3 C338.9 365.4 337.8 365.7 336.6 366.1 C335.5 366.6 334.2 367.2 333.0 367.9 C331.8 368.6 330.6 369.5 329.4 370.5 C328.2 371.4 327.1 372.5 326.0 373.7 C324.9 374.8 323.9 376.0 323.1 377.3 C322.2 378.5 321.4 379.8 320.8 381.1 C320.1 382.3 319.6 383.6 319.3 384.8 C318.9 385.9 318.7 387.1 318.7 388.1 C318.6 389.1 318.8 390.1 319.0 390.9 C319.3 391.7 320.1 392.6 320.3 393.0 L327.6 399.8Z" style="stroke:none"/>
<path class="l" d="M352.2 373.4 L344.9 366.6 L344.9 366.6 C344.5 366.4 343.6 365.7 342.7 365.5 C341.9 365.3 341.0 365.2 339.9 365.3 C338.9 365.4 337.8 365.7 336.6 366.1 C335.5 366.6 334.2 367.2 333.0 367.9 C331.8 368.6 330.6 369.5 329.4 370.5 C328.2 371.4 327.1 372.5 326.0 373.7 C324.9 374.8 323.9 376.0 323.1 377.3 C322.2 378.5 321.4 379.8 320.8 381.1 C320.1 382.3 319.6 383.6 319.3 384.8 C318.9 385.9 318.7 387.1 318.7 388.1 C318.6 389.1 318.8 390.1 319.0 390.9 C319.3 391.7 320.1 392.6 320.3 393.0 L327.6 399.8" />
<path class="k" d="M320.3 393.0 C320.1 392.6 319.3 391.7 319.0 390.9 C318.8 390.1 318.6 389.1 318.7 388.1 C318.7 387.1 318.9 385.9 319.3 384.8 C319.6 383.6 320.1 382.3 320.8 381.1 C321.4 379.8 322.2 378.5 323.1 377.3 C323.9 376.0 324.9 374.8 326.0 373.7 C327.1 372.5 328.2 371.4 329.4 370.5 C330.6 369.5 331.8 368.6 333.0 367.9 C334.2 367.2 335.5 366.6 336.6 366.1 C337.8 365.7 338.9 365.4 339.9 365.3 C341.0 365.2 341.9 365.3 342.7 365.5 C343.6 365.7 344.5 366.4 344.9 366.6" style="stroke-width:1.6"/>
<path class="lw" d="M355.6 380.0 L348.3 373.2 L348.3 373.2 C348.0 373.1 347.1 372.4 346.4 372.2 C345.7 372.0 344.8 372.0 343.9 372.1 C343.0 372.2 342.0 372.4 340.9 372.8 C339.9 373.2 338.8 373.7 337.8 374.4 C336.7 375.0 335.6 375.8 334.5 376.6 C333.5 377.5 332.5 378.5 331.5 379.5 C330.6 380.5 329.7 381.6 328.9 382.7 C328.1 383.8 327.4 384.9 326.8 386.1 C326.3 387.2 325.8 388.3 325.5 389.3 C325.2 390.4 325.0 391.4 325.0 392.3 C325.0 393.2 325.1 394.1 325.3 394.8 C325.6 395.5 326.3 396.3 326.5 396.6 L333.8 403.5Z" style="stroke:none"/>
<path class="l" d="M355.6 380.0 L348.3 373.2 L348.3 373.2 C348.0 373.1 347.1 372.4 346.4 372.2 C345.7 372.0 344.8 372.0 343.9 372.1 C343.0 372.2 342.0 372.4 340.9 372.8 C339.9 373.2 338.8 373.7 337.8 374.4 C336.7 375.0 335.6 375.8 334.5 376.6 C333.5 377.5 332.5 378.5 331.5 379.5 C330.6 380.5 329.7 381.6 328.9 382.7 C328.1 383.8 327.4 384.9 326.8 386.1 C326.3 387.2 325.8 388.3 325.5 389.3 C325.2 390.4 325.0 391.4 325.0 392.3 C325.0 393.2 325.1 394.1 325.3 394.8 C325.6 395.5 326.3 396.3 326.5 396.6 L333.8 403.5" />
<path class="lw" d="M362.3 383.1 L357.2 378.4 L357.2 378.4 C356.8 378.2 355.9 377.5 355.1 377.2 C354.3 377.0 353.3 377.0 352.3 377.1 C351.3 377.2 350.1 377.5 349.0 377.9 C347.9 378.3 346.6 378.9 345.5 379.6 C344.3 380.3 343.0 381.2 341.9 382.2 C340.7 383.1 339.6 384.2 338.5 385.3 C337.5 386.4 336.5 387.7 335.6 388.9 C334.7 390.1 333.9 391.4 333.3 392.6 C332.7 393.9 332.2 395.1 331.8 396.3 C331.5 397.5 331.3 398.6 331.3 399.6 C331.2 400.6 331.3 401.6 331.6 402.4 C331.9 403.2 332.7 404.1 332.9 404.4 L338.0 409.2Z" style="stroke:none"/>
<path class="l" d="M362.3 383.1 L357.2 378.4 L357.2 378.4 C356.8 378.2 355.9 377.5 355.1 377.2 C354.3 377.0 353.3 377.0 352.3 377.1 C351.3 377.2 350.1 377.5 349.0 377.9 C347.9 378.3 346.6 378.9 345.5 379.6 C344.3 380.3 343.0 381.2 341.9 382.2 C340.7 383.1 339.6 384.2 338.5 385.3 C337.5 386.4 336.5 387.7 335.6 388.9 C334.7 390.1 333.9 391.4 333.3 392.6 C332.7 393.9 332.2 395.1 331.8 396.3 C331.5 397.5 331.3 398.6 331.3 399.6 C331.2 400.6 331.3 401.6 331.6 402.4 C331.9 403.2 332.7 404.1 332.9 404.4 L338.0 409.2" />
<path class="k" d="M332.9 404.4 C332.7 404.1 331.9 403.2 331.6 402.4 C331.3 401.6 331.2 400.6 331.3 399.6 C331.3 398.6 331.5 397.5 331.8 396.3 C332.2 395.1 332.7 393.9 333.3 392.6 C333.9 391.4 334.7 390.1 335.6 388.9 C336.5 387.7 337.5 386.4 338.5 385.3 C339.6 384.2 340.7 383.1 341.9 382.2 C343.0 381.2 344.3 380.3 345.5 379.6 C346.6 378.9 347.9 378.3 349.0 377.9 C350.1 377.5 351.3 377.2 352.3 377.1 C353.3 377.0 354.3 377.0 355.1 377.2 C355.9 377.5 356.8 378.2 357.2 378.4" style="stroke-width:1.5"/>
<path class="l" d="M334.1 405.5 C333.8 405.2 333.1 404.3 332.8 403.5 C332.5 402.7 332.4 401.7 332.4 400.7 C332.5 399.7 332.7 398.6 333.0 397.4 C333.4 396.2 333.9 395.0 334.5 393.7 C335.1 392.5 335.9 391.2 336.8 390.0 C337.6 388.8 338.6 387.5 339.7 386.4 C340.7 385.3 341.9 384.2 343.0 383.2 C344.2 382.3 345.4 381.4 346.6 380.7 C347.8 380.0 349.0 379.4 350.2 379.0 C351.3 378.6 352.4 378.3 353.5 378.2 C354.5 378.1 355.4 378.1 356.2 378.3 C357.0 378.5 358.0 379.3 358.3 379.5" />
<path class="l" d="M338.0 409.2 C338.4 409.4 339.3 410.1 340.1 410.3 C340.9 410.5 341.9 410.6 342.9 410.5 C343.9 410.4 345.0 410.1 346.2 409.7 C347.3 409.2 348.5 408.6 349.7 407.9 C350.9 407.2 352.1 406.3 353.3 405.4 C354.4 404.4 355.6 403.4 356.7 402.2 C357.7 401.1 358.7 399.9 359.6 398.7 C360.4 397.4 361.2 396.1 361.9 394.9 C362.5 393.7 363.0 392.4 363.3 391.2 C363.7 390.1 363.9 388.9 363.9 387.9 C363.9 386.9 363.8 386.0 363.6 385.2 C363.3 384.4 362.5 383.5 362.3 383.1" />
<path class="lw" d="M365.4 394.5 L358.0 386.3 L358.0 386.3 C357.7 386.1 357.0 385.6 356.4 385.4 C355.8 385.2 355.0 385.2 354.3 385.3 C353.5 385.4 352.6 385.6 351.8 385.9 C350.9 386.2 350.0 386.7 349.1 387.2 C348.2 387.8 347.2 388.4 346.3 389.2 C345.4 389.9 344.6 390.7 343.8 391.6 C343.0 392.4 342.2 393.4 341.5 394.3 C340.9 395.2 340.3 396.2 339.8 397.2 C339.3 398.1 338.9 399.1 338.7 400.0 C338.4 400.9 338.2 401.7 338.2 402.5 C338.2 403.3 338.3 404.0 338.5 404.6 C338.7 405.2 339.3 405.9 339.5 406.2 L348.2 412.9Z" style="stroke:none"/>
<path class="l" d="M358.0 386.3 L365.4 394.5" />
<path class="l" d="M339.5 406.2 L348.2 412.9" />
<path class="lw" d="M380.3 412.2 L364.6 395.3 L364.6 395.3 C364.4 395.2 363.8 394.7 363.3 394.6 C362.8 394.4 362.2 394.4 361.5 394.5 C360.9 394.5 360.2 394.7 359.4 395.0 C358.7 395.3 357.9 395.6 357.2 396.1 C356.4 396.5 355.6 397.1 354.9 397.7 C354.2 398.3 353.4 399.0 352.8 399.7 C352.1 400.4 351.5 401.2 350.9 402.0 C350.4 402.8 349.9 403.6 349.5 404.4 C349.1 405.1 348.8 405.9 348.5 406.7 C348.3 407.4 348.2 408.2 348.2 408.8 C348.1 409.4 348.2 410.0 348.4 410.6 C348.6 411.1 349.1 411.6 349.2 411.8 L367.2 426.3Z" style="stroke:none"/>
<path class="l" d="M380.3 412.2 L364.6 395.3 L364.6 395.3 C364.4 395.2 363.8 394.7 363.3 394.6 C362.8 394.4 362.2 394.4 361.5 394.5 C360.9 394.5 360.2 394.7 359.4 395.0 C358.7 395.3 357.9 395.6 357.2 396.1 C356.4 396.5 355.6 397.1 354.9 397.7 C354.2 398.3 353.4 399.0 352.8 399.7 C352.1 400.4 351.5 401.2 350.9 402.0 C350.4 402.8 349.9 403.6 349.5 404.4 C349.1 405.1 348.8 405.9 348.5 406.7 C348.3 407.4 348.2 408.2 348.2 408.8 C348.1 409.4 348.2 410.0 348.4 410.6 C348.6 411.1 349.1 411.6 349.2 411.8 L367.2 426.3" />
<path class="lw" d="M387.8 420.2 L380.3 412.2 L380.3 412.2 C380.2 412.1 379.7 411.7 379.2 411.6 C378.8 411.4 378.3 411.4 377.8 411.5 C377.2 411.5 376.6 411.7 376.0 411.9 C375.4 412.1 374.8 412.4 374.2 412.8 C373.5 413.2 372.9 413.7 372.3 414.2 C371.7 414.7 371.1 415.2 370.5 415.8 C369.9 416.4 369.4 417.1 369.0 417.7 C368.5 418.4 368.1 419.0 367.8 419.7 C367.4 420.3 367.2 421.0 367.0 421.6 C366.8 422.2 366.7 422.8 366.7 423.4 C366.6 423.9 366.7 424.4 366.9 424.8 C367.0 425.3 367.4 425.7 367.5 425.9 L376.1 432.8Z" style="stroke:none"/>
<path class="l" d="M387.8 420.2 L380.3 412.2 L380.3 412.2 C380.2 412.1 379.7 411.7 379.2 411.6 C378.8 411.4 378.3 411.4 377.8 411.5 C377.2 411.5 376.6 411.7 376.0 411.9 C375.4 412.1 374.8 412.4 374.2 412.8 C373.5 413.2 372.9 413.7 372.3 414.2 C371.7 414.7 371.1 415.2 370.5 415.8 C369.9 416.4 369.4 417.1 369.0 417.7 C368.5 418.4 368.1 419.0 367.8 419.7 C367.4 420.3 367.2 421.0 367.0 421.6 C366.8 422.2 366.7 422.8 366.7 423.4 C366.6 423.9 366.7 424.4 366.9 424.8 C367.0 425.3 367.4 425.7 367.5 425.9 L376.1 432.8" />
<path class="l" d="M368.7 427.0 C368.6 426.8 368.2 426.4 368.0 425.9 C367.9 425.5 367.8 425.0 367.8 424.5 C367.9 423.9 368.0 423.3 368.1 422.7 C368.3 422.1 368.6 421.4 368.9 420.8 C369.3 420.1 369.7 419.5 370.1 418.8 C370.6 418.2 371.1 417.5 371.7 416.9 C372.2 416.3 372.8 415.7 373.4 415.2 C374.1 414.7 374.7 414.3 375.3 413.9 C376.0 413.5 376.6 413.2 377.2 413.0 C377.8 412.8 378.4 412.6 378.9 412.6 C379.5 412.5 380.0 412.5 380.4 412.7 C380.8 412.8 381.3 413.1 381.5 413.2" />
<path class="lw" d="M376.7 432.9 C377.0 433.2 377.3 433.4 377.8 433.6 C378.2 433.7 378.6 433.7 379.1 433.7 C379.6 433.7 380.2 433.6 380.8 433.4 C381.3 433.2 381.9 432.9 382.5 432.6 C383.1 432.3 383.6 431.9 384.2 431.4 C384.7 431.0 385.3 430.5 385.8 430.0 C386.3 429.4 386.8 428.8 387.2 428.3 C387.6 427.7 387.9 427.1 388.2 426.5 C388.5 425.9 388.7 425.3 388.9 424.7 C389.0 424.1 389.1 423.6 389.1 423.1 C389.1 422.6 389.0 422.1 388.8 421.7 C388.7 421.3 388.4 420.9 388.1 420.7 C387.9 420.4 387.5 420.2 387.1 420.1 C386.7 419.9 386.2 419.9 385.7 419.9 C385.2 419.9 384.6 420.0 384.1 420.2 C383.5 420.4 382.9 420.7 382.4 421.0 C381.8 421.3 381.2 421.7 380.6 422.2 C380.1 422.6 379.5 423.1 379.0 423.7 C378.5 424.2 378.1 424.8 377.7 425.3 C377.3 425.9 376.9 426.5 376.6 427.1 C376.3 427.7 376.1 428.4 376.0 428.9 C375.8 429.5 375.8 430.0 375.8 430.5 C375.8 431.0 375.9 431.5 376.0 431.9 C376.2 432.3 376.4 432.7 376.7 432.9Z" style="stroke-width:1.4;stroke:#000"/>
<path class="k" d="M378.8 431.3 C379.0 431.5 379.2 431.6 379.5 431.7 C379.8 431.8 380.1 431.9 380.4 431.8 C380.8 431.8 381.2 431.7 381.6 431.6 C381.9 431.5 382.4 431.3 382.8 431.1 C383.1 430.9 383.6 430.6 383.9 430.3 C384.3 430.0 384.7 429.6 385.0 429.2 C385.4 428.9 385.7 428.5 386.0 428.1 C386.3 427.7 386.5 427.2 386.7 426.8 C386.9 426.4 387.1 426.0 387.2 425.6 C387.3 425.2 387.3 424.8 387.3 424.5 C387.3 424.1 387.2 423.8 387.1 423.5 C387.0 423.3 386.9 423.0 386.7 422.8 C386.5 422.6 386.2 422.5 385.9 422.4 C385.6 422.3 385.3 422.3 385.0 422.3 C384.6 422.3 384.2 422.4 383.9 422.5 C383.5 422.7 383.1 422.8 382.7 423.1 C382.3 423.3 381.9 423.6 381.5 423.9 C381.1 424.2 380.7 424.5 380.4 424.9 C380.0 425.3 379.7 425.7 379.4 426.1 C379.2 426.5 378.9 426.9 378.7 427.3 C378.5 427.7 378.4 428.1 378.3 428.5 C378.2 428.9 378.1 429.3 378.1 429.7 C378.1 430.0 378.2 430.3 378.3 430.6 C378.4 430.9 378.6 431.1 378.8 431.3Z" style="stroke-width:1.0"/>
<path class="l" d="M380.1 430.4 C380.2 430.5 380.4 430.6 380.6 430.7 C380.8 430.7 381.0 430.7 381.3 430.7 C381.5 430.7 381.8 430.7 382.1 430.6 C382.4 430.5 382.7 430.3 383.0 430.2 C383.2 430.0 383.5 429.8 383.8 429.6 C384.1 429.4 384.4 429.1 384.6 428.9 C384.9 428.6 385.1 428.3 385.3 428.0 C385.5 427.7 385.7 427.4 385.8 427.1 C386.0 426.8 386.1 426.5 386.1 426.2 C386.2 425.9 386.3 425.7 386.3 425.4 C386.3 425.2 386.2 424.9 386.1 424.7 C386.1 424.5 385.9 424.3 385.8 424.2 C385.6 424.1 385.5 424.0 385.3 423.9 C385.1 423.8 384.8 423.8 384.6 423.8 C384.3 423.8 384.0 423.9 383.8 424.0 C383.5 424.1 383.2 424.2 382.9 424.4 C382.6 424.5 382.3 424.7 382.0 425.0 C381.8 425.2 381.5 425.4 381.2 425.7 C381.0 426.0 380.8 426.3 380.6 426.6 C380.4 426.8 380.2 427.2 380.0 427.5 C379.9 427.7 379.8 428.1 379.7 428.3 C379.6 428.6 379.6 428.9 379.6 429.2 C379.6 429.4 379.6 429.6 379.7 429.8 C379.8 430.0 379.9 430.2 380.1 430.4Z" />
<path class="l" d="M362.8 397.5 C363.4 397.4 365.1 395.6 366.6 396.6 C368.1 397.6 371.2 402.0 371.7 403.6 C372.3 405.3 370.7 406.2 369.8 406.4 C368.9 406.7 366.9 405.2 366.4 404.9" />
<path class="l" d="M364.7 397.5 L369.4 404.7" />
<path class="lw" d="M444.1 438.5 L445.6 440.1 L446.9 441.9 L447.9 443.8 L448.7 445.9 L449.3 448.1 L449.7 450.5 L449.8 453.0 L449.7 455.6 L449.4 458.3 L448.8 461.0 L448.1 463.8 L447.0 466.5 L445.8 469.3 L444.4 472.0 L442.7 474.7 L440.9 477.4 L438.9 479.9 L436.8 482.3 L434.6 484.6 L432.2 486.8 L429.7 488.7 L427.1 490.6 L424.5 492.2 L421.8 493.6 L419.1 494.8 L416.4 495.8 L413.7 496.5 L411.1 497.1 L408.5 497.4 L406.0 497.4 L403.6 497.2 L401.3 496.7 L399.2 496.1 L397.2 495.2 L395.3 494.0 L393.7 492.7 L385.6 485.0 L384.4 483.2 L383.3 481.3 L382.5 479.2 L381.9 476.9 L381.5 474.5 L381.4 472.0 L381.5 469.5 L381.8 466.8 L382.4 464.1 L383.2 461.3 L384.2 458.5 L385.4 455.8 L386.8 453.0 L388.5 450.3 L390.3 447.7 L392.3 445.2 L394.4 442.8 L396.7 440.5 L399.1 438.3 L401.5 436.3 L404.1 434.5 L406.7 432.9 L409.4 431.5 L412.1 430.3 L414.8 429.3 L417.5 428.5 L420.1 428.0 L422.7 427.7 L425.2 427.7 L427.6 427.9 L429.9 428.3 L432.1 429.0 L434.1 429.9 L435.9 431.0Z" style="stroke:none"/>
<path class="k" d="M445.1 440.1 L438.5 433.9" style="stroke-width:2.9"/>
<path class="k" d="M445.1 440.1 L438.5 433.9" style="stroke-width:1.7;stroke:#fff"/>
<path class="k" d="M395.3 493.5 L388.7 487.3" style="stroke-width:2.9"/>
<path class="k" d="M395.3 493.5 L388.7 487.3" style="stroke-width:1.7;stroke:#fff"/>
<path class="k" d="M392.7 491.1 L386.2 485.0" style="stroke-width:2.9"/>
<path class="k" d="M392.7 491.1 L386.2 485.0" style="stroke-width:1.7;stroke:#fff"/>
<path class="k" d="M390.7 488.2 L384.2 482.1" style="stroke-width:2.9"/>
<path class="k" d="M390.7 488.2 L384.2 482.1" style="stroke-width:1.7;stroke:#fff"/>
<path class="k" d="M389.3 484.9 L382.7 478.8" style="stroke-width:2.9"/>
<path class="k" d="M389.3 484.9 L382.7 478.8" style="stroke-width:1.7;stroke:#fff"/>
<path class="k" d="M388.5 481.2 L381.9 475.0" style="stroke-width:2.9"/>
<path class="k" d="M388.5 481.2 L381.9 475.0" style="stroke-width:1.7;stroke:#fff"/>
<path class="k" d="M388.3 477.1 L381.7 471.0" style="stroke-width:2.9"/>
<path class="k" d="M388.3 477.1 L381.7 471.0" style="stroke-width:1.7;stroke:#fff"/>
<path class="k" d="M388.7 472.8 L382.1 466.7" style="stroke-width:2.9"/>
<path class="k" d="M388.7 472.8 L382.1 466.7" style="stroke-width:1.7;stroke:#fff"/>
<path class="k" d="M389.8 468.4 L383.2 462.3" style="stroke-width:2.9"/>
<path class="k" d="M389.8 468.4 L383.2 462.3" style="stroke-width:1.7;stroke:#fff"/>
<path class="k" d="M391.4 463.9 L384.8 457.8" style="stroke-width:2.9"/>
<path class="k" d="M391.4 463.9 L384.8 457.8" style="stroke-width:1.7;stroke:#fff"/>
<path class="k" d="M393.6 459.5 L387.0 453.3" style="stroke-width:2.9"/>
<path class="k" d="M393.6 459.5 L387.0 453.3" style="stroke-width:1.7;stroke:#fff"/>
<path class="k" d="M396.3 455.1 L389.7 449.0" style="stroke-width:2.9"/>
<path class="k" d="M396.3 455.1 L389.7 449.0" style="stroke-width:1.7;stroke:#fff"/>
<path class="k" d="M399.4 451.0 L392.9 444.9" style="stroke-width:2.9"/>
<path class="k" d="M399.4 451.0 L392.9 444.9" style="stroke-width:1.7;stroke:#fff"/>
<path class="k" d="M403.0 447.2 L396.4 441.1" style="stroke-width:2.9"/>
<path class="k" d="M403.0 447.2 L396.4 441.1" style="stroke-width:1.7;stroke:#fff"/>
<path class="k" d="M406.9 443.8 L400.3 437.6" style="stroke-width:2.9"/>
<path class="k" d="M406.9 443.8 L400.3 437.6" style="stroke-width:1.7;stroke:#fff"/>
<path class="k" d="M411.0 440.8 L404.4 434.6" style="stroke-width:2.9"/>
<path class="k" d="M411.0 440.8 L404.4 434.6" style="stroke-width:1.7;stroke:#fff"/>
<path class="k" d="M415.3 438.3 L408.7 432.1" style="stroke-width:2.9"/>
<path class="k" d="M415.3 438.3 L408.7 432.1" style="stroke-width:1.7;stroke:#fff"/>
<path class="k" d="M419.7 436.3 L413.1 430.2" style="stroke-width:2.9"/>
<path class="k" d="M419.7 436.3 L413.1 430.2" style="stroke-width:1.7;stroke:#fff"/>
<path class="k" d="M424.0 435.0 L417.4 428.8" style="stroke-width:2.9"/>
<path class="k" d="M424.0 435.0 L417.4 428.8" style="stroke-width:1.7;stroke:#fff"/>
<path class="k" d="M428.3 434.3 L421.7 428.1" style="stroke-width:2.9"/>
<path class="k" d="M428.3 434.3 L421.7 428.1" style="stroke-width:1.7;stroke:#fff"/>
<path class="k" d="M432.3 434.2 L425.7 428.0" style="stroke-width:2.9"/>
<path class="k" d="M432.3 434.2 L425.7 428.0" style="stroke-width:1.7;stroke:#fff"/>
<path class="k" d="M436.1 434.7 L429.5 428.6" style="stroke-width:2.9"/>
<path class="k" d="M436.1 434.7 L429.5 428.6" style="stroke-width:1.7;stroke:#fff"/>
<path class="k" d="M439.5 435.9 L432.9 429.8" style="stroke-width:2.9"/>
<path class="k" d="M439.5 435.9 L432.9 429.8" style="stroke-width:1.7;stroke:#fff"/>
<path class="k" d="M442.5 437.7 L436.0 431.6" style="stroke-width:2.9"/>
<path class="k" d="M442.5 437.7 L436.0 431.6" style="stroke-width:1.7;stroke:#fff"/>
<path class="l" d="M441.1 441.8 L444.6 439.0 L445.3 439.8 L442.6 443.3 L443.2 444.1 L446.8 441.7 L447.4 442.7 L444.2 445.9 L444.7 446.9 L448.4 445.0 L448.8 446.1 L445.4 449.0 L445.7 450.0 L449.4 448.6 L449.6 449.9 L446.1 452.4 L446.1 453.5 L449.8 452.6 L449.8 454.0 L446.1 456.0 L446.0 457.2 L449.6 456.9 L449.4 458.3 L445.7 459.9 L445.4 461.1 L448.8 461.3 L448.4 462.8 L444.6 463.8 L444.2 465.1 L447.3 465.8 L446.7 467.3 L443.1 467.8 L442.5 469.1 L445.3 470.4 L444.5 471.8 L441.1 471.8 L440.3 473.0 L442.7 474.8 L441.8 476.2 L438.6 475.6 L437.7 476.8 L439.6 479.0 L438.6 480.3 L435.7 479.2 L434.7 480.3 L436.2 483.0 L435.0 484.2 L432.5 482.6 L431.4 483.6 L432.3 486.6 L431.0 487.7 L429.0 485.6 L427.8 486.4 L428.2 489.8 L426.9 490.7 L425.2 488.2 L424.0 488.9 L423.9 492.5 L422.5 493.2 L421.4 490.3 L420.2 490.9 L419.5 494.6 L418.1 495.2 L417.5 491.9 L416.3 492.3 L415.1 496.2 L413.7 496.5 L413.7 493.0 L412.4 493.3 L410.8 497.1 L409.4 497.3 L409.9 493.6 L408.7 493.6 L406.6 497.4 L405.3 497.4 L406.3 493.5 L405.2 493.4 L402.7 497.0 L401.5 496.8 L403.0 492.9 L402.0 492.6 L399.1 496.0 L398.1 495.6 L400.0 491.8 L399.1 491.3 L395.9 494.4 L395.0 493.8 L397.4 490.1 L396.7 489.4 L393.2 492.2 L392.5 491.4 L395.2 487.9 L394.6 487.1 L391.0 489.5 L390.4 488.5 L393.6 485.3 L393.1 484.3 L389.4 486.2 L389.0 485.1 L392.4 482.2 L392.1 481.2 L388.4 482.6 L388.2 481.3 L391.7 478.8 L391.7 477.7 L388.0 478.6 L388.0 477.2 L391.7 475.2 L391.8 474.0 L388.2 474.3 L388.4 472.9 L392.1 471.3 L392.4 470.1 L389.0 469.9 L389.4 468.4 L393.2 467.4 L393.6 466.1 L390.5 465.4 L391.1 463.9 L394.7 463.4 L395.3 462.1 L392.5 460.8 L393.3 459.4 L396.7 459.4 L397.5 458.2 L395.1 456.4 L396.0 455.0 L399.2 455.6 L400.1 454.4 L398.2 452.2 L399.2 450.9 L402.1 452.0 L403.1 450.9 L401.6 448.2 L402.8 447.0 L405.3 448.6 L406.4 447.6 L405.5 444.6 L406.8 443.5 L408.8 445.6 L410.0 444.8 L409.6 441.4 L410.9 440.5 L412.6 443.0 L413.8 442.3 L413.9 438.7 L415.3 438.0 L416.4 440.9 L417.6 440.3 L418.3 436.6 L419.7 436.0 L420.3 439.3 L421.5 438.9 L422.7 435.0 L424.1 434.7 L424.1 438.2 L425.4 437.9 L427.0 434.1 L428.4 433.9 L427.9 437.6 L429.1 437.6 L431.2 433.8 L432.5 433.8 L431.5 437.7 L432.6 437.8 L435.1 434.2 L436.3 434.4 L434.8 438.3 L435.8 438.6 L438.7 435.2 L439.7 435.6 L437.8 439.4 L438.7 439.9 L441.9 436.8 L442.8 437.4 L440.4 441.1Z" style="stroke-width:0.6"/>
<path class="l" d="M440.9 442.0 L442.2 443.3 L443.3 444.9 L444.2 446.6 L444.9 448.4 L445.5 450.4 L445.8 452.4 L445.9 454.6 L445.8 456.9 L445.5 459.2 L445.0 461.6 L444.3 464.0 L443.5 466.4 L442.4 468.8 L441.1 471.2 L439.7 473.6 L438.1 475.9 L436.4 478.1 L434.5 480.2 L432.6 482.2 L430.5 484.1 L428.3 485.8 L426.1 487.4 L423.8 488.8 L421.4 490.0 L419.1 491.1 L416.7 492.0 L414.4 492.6 L412.1 493.1 L409.8 493.3 L407.6 493.4 L405.5 493.2 L403.5 492.8 L401.7 492.2 L399.9 491.4 L398.3 490.4 L396.9 489.2 L395.6 487.9 L394.5 486.3 L393.6 484.6 L392.9 482.8 L392.3 480.8 L392.0 478.8 L391.9 476.6 L392.0 474.3 L392.3 472.0 L392.8 469.6 L393.5 467.2 L394.3 464.8 L395.4 462.4 L396.7 460.0 L398.1 457.6 L399.7 455.3 L401.4 453.1 L403.3 451.0 L405.2 449.0 L407.3 447.1 L409.5 445.4 L411.7 443.8 L414.0 442.4 L416.4 441.2 L418.7 440.1 L421.1 439.2 L423.4 438.6 L425.7 438.1 L428.0 437.9 L430.2 437.8 L432.3 438.0 L434.3 438.4 L436.1 439.0 L437.9 439.8 L439.5 440.8Z" style="stroke-width:0.6"/>
<path class="lw" d="M431.5 452.1 C431.7 452.3 432.3 452.8 432.6 453.3 C432.9 453.7 433.2 454.2 433.4 454.7 C433.6 455.2 433.8 455.7 434.0 456.3 C434.1 456.9 434.2 457.5 434.3 458.1 C434.4 458.7 434.4 459.3 434.4 460.0 C434.3 460.6 434.3 461.3 434.2 461.9 C434.0 462.6 433.9 463.3 433.7 464.0 C433.5 464.7 433.2 465.4 433.0 466.1 C432.7 466.8 432.4 467.5 432.0 468.1 C431.6 468.8 431.2 469.5 430.8 470.2 C430.4 470.8 429.9 471.5 429.4 472.1 C428.9 472.7 428.4 473.4 427.9 474.0 C427.3 474.5 426.7 475.1 426.1 475.6 C425.5 476.2 424.9 476.7 424.3 477.2 C423.7 477.6 423.0 478.1 422.3 478.5 C421.7 478.9 421.0 479.3 420.4 479.6 C419.7 479.9 419.0 480.2 418.3 480.5 C417.7 480.7 417.0 480.9 416.3 481.1 C415.6 481.2 415.0 481.4 414.3 481.4 C413.7 481.5 413.1 481.5 412.5 481.5 C411.8 481.5 411.2 481.4 410.7 481.3 C410.1 481.2 409.6 481.0 409.0 480.8 C408.5 480.6 408.0 480.4 407.6 480.1 C407.1 479.8 406.7 479.5 406.3 479.1 C405.9 478.8 405.5 478.4 405.2 477.9 C404.9 477.5 404.6 477.0 404.4 476.5 C404.2 476.0 404.0 475.5 403.8 474.9 C403.7 474.3 403.6 473.7 403.5 473.1 C403.4 472.5 403.4 471.9 403.4 471.2 C403.5 470.6 403.5 469.9 403.6 469.3 C403.8 468.6 403.9 467.9 404.1 467.2 C404.3 466.5 404.6 465.8 404.8 465.1 C405.1 464.4 405.4 463.7 405.8 463.1 C406.2 462.4 406.6 461.7 407.0 461.0 C407.4 460.4 407.9 459.7 408.4 459.1 C408.9 458.5 409.4 457.8 409.9 457.2 C410.5 456.7 411.1 456.1 411.7 455.6 C412.3 455.0 412.9 454.5 413.5 454.0 C414.1 453.6 414.8 453.1 415.5 452.7 C416.1 452.3 416.8 451.9 417.4 451.6 C418.1 451.3 418.8 451.0 419.5 450.7 C420.1 450.5 420.8 450.3 421.5 450.1 C422.2 450.0 422.8 449.8 423.5 449.8 C424.1 449.7 424.7 449.7 425.3 449.7 C426.0 449.7 426.6 449.8 427.1 449.9 C427.7 450.0 428.2 450.2 428.8 450.4 C429.3 450.6 429.8 450.8 430.2 451.1 C430.7 451.4 431.3 451.9 431.5 452.1 C431.7 452.2 431.3 451.9 431.5 452.1Z" style="stroke-width:1.1;stroke:#000"/>
<path class="l" d="M427.2 449.6 C427.3 450.1 427.7 451.4 427.8 452.4 C427.8 453.4 427.8 454.5 427.6 455.5 C427.5 456.6 427.2 457.7 426.8 458.8 C426.4 459.9 425.9 461.1 425.4 462.1 C424.8 463.2 424.1 464.3 423.3 465.3 C422.6 466.4 421.7 467.4 420.8 468.3 C419.9 469.2 419.0 470.1 418.0 470.8 C417.0 471.6 415.9 472.3 414.8 472.9 C413.8 473.5 412.7 474.0 411.6 474.4 C410.5 474.8 409.4 475.0 408.4 475.2 C407.4 475.4 406.3 475.4 405.4 475.3 C404.4 475.3 403.1 474.9 402.7 474.8" />
<path class="l" d="M440.3 460.9 C440.3 461.2 440.1 461.5 439.8 461.7 C439.6 461.8 439.2 461.8 438.9 461.7 C438.7 461.5 438.5 461.2 438.5 460.9 C438.5 460.6 438.7 460.3 438.9 460.1 C439.2 460.0 439.6 460.0 439.8 460.1 C440.1 460.3 440.3 460.6 440.3 460.9Z" />
<path class="lw" d="M560.5 358.8 L561.7 359.5 L562.7 360.3 L563.7 361.3 L564.5 362.5 L565.3 363.8 L565.9 365.2 L566.4 366.7 L566.7 368.3 L567.0 370.0 L567.1 371.7 L567.0 373.6 L566.9 375.4 L566.6 377.3 L566.1 379.2 L565.6 381.2 L564.9 383.1 L564.1 384.9 L563.2 386.8 L562.2 388.6 L561.1 390.3 L559.9 391.9 L558.6 393.4 L557.2 394.9 L555.8 396.2 L554.4 397.4 L552.9 398.4 L551.4 399.3 L549.8 400.1 L548.3 400.7 L546.8 401.1 L545.3 401.4 L543.8 401.5 L542.4 401.4 L541.0 401.2 L539.7 400.8 L538.5 400.2 L531.1 396.2 L530.1 395.4 L529.1 394.4 L528.3 393.2 L527.5 391.9 L526.9 390.5 L526.4 389.0 L526.1 387.4 L525.8 385.7 L525.7 384.0 L525.8 382.2 L526.0 380.3 L526.3 378.4 L526.7 376.5 L527.2 374.6 L527.9 372.7 L528.7 370.8 L529.6 368.9 L530.6 367.2 L531.8 365.4 L533.0 363.8 L534.2 362.3 L535.6 360.8 L537.0 359.5 L538.4 358.4 L539.9 357.3 L541.4 356.4 L543.0 355.6 L544.5 355.0 L546.0 354.6 L547.5 354.3 L549.0 354.2 L550.4 354.3 L551.8 354.5 L553.1 354.9Z" style="stroke:none"/>
<path class="k" d="M561.5 359.9 L555.4 356.6" style="stroke-width:2.7"/>
<path class="k" d="M561.5 359.9 L555.4 356.6" style="stroke-width:1.5;stroke:#fff"/>
<path class="k" d="M539.9 400.5 L533.8 397.2" style="stroke-width:2.7"/>
<path class="k" d="M539.9 400.5 L533.8 397.2" style="stroke-width:1.5;stroke:#fff"/>
<path class="k" d="M537.5 399.1 L531.3 395.9" style="stroke-width:2.7"/>
<path class="k" d="M537.5 399.1 L531.3 395.9" style="stroke-width:1.5;stroke:#fff"/>
<path class="k" d="M535.4 397.2 L529.2 393.9" style="stroke-width:2.7"/>
<path class="k" d="M535.4 397.2 L529.2 393.9" style="stroke-width:1.5;stroke:#fff"/>
<path class="k" d="M533.8 394.6 L527.6 391.3" style="stroke-width:2.7"/>
<path class="k" d="M533.8 394.6 L527.6 391.3" style="stroke-width:1.5;stroke:#fff"/>
<path class="k" d="M532.7 391.5 L526.6 388.2" style="stroke-width:2.7"/>
<path class="k" d="M532.7 391.5 L526.6 388.2" style="stroke-width:1.5;stroke:#fff"/>
<path class="k" d="M532.3 388.0 L526.1 384.7" style="stroke-width:2.7"/>
<path class="k" d="M532.3 388.0 L526.1 384.7" style="stroke-width:1.5;stroke:#fff"/>
<path class="k" d="M532.4 384.2 L526.2 380.9" style="stroke-width:2.7"/>
<path class="k" d="M532.4 384.2 L526.2 380.9" style="stroke-width:1.5;stroke:#fff"/>
<path class="k" d="M533.0 380.2 L526.9 376.9" style="stroke-width:2.7"/>
<path class="k" d="M533.0 380.2 L526.9 376.9" style="stroke-width:1.5;stroke:#fff"/>
<path class="k" d="M534.3 376.2 L528.1 372.9" style="stroke-width:2.7"/>
<path class="k" d="M534.3 376.2 L528.1 372.9" style="stroke-width:1.5;stroke:#fff"/>
<path class="k" d="M536.0 372.3 L529.9 369.1" style="stroke-width:2.7"/>
<path class="k" d="M536.0 372.3 L529.9 369.1" style="stroke-width:1.5;stroke:#fff"/>
<path class="k" d="M538.3 368.7 L532.1 365.4" style="stroke-width:2.7"/>
<path class="k" d="M538.3 368.7 L532.1 365.4" style="stroke-width:1.5;stroke:#fff"/>
<path class="k" d="M540.9 365.5 L534.7 362.2" style="stroke-width:2.7"/>
<path class="k" d="M540.9 365.5 L534.7 362.2" style="stroke-width:1.5;stroke:#fff"/>
<path class="k" d="M543.8 362.7 L537.6 359.4" style="stroke-width:2.7"/>
<path class="k" d="M543.8 362.7 L537.6 359.4" style="stroke-width:1.5;stroke:#fff"/>
<path class="k" d="M546.9 360.5 L540.7 357.2" style="stroke-width:2.7"/>
<path class="k" d="M546.9 360.5 L540.7 357.2" style="stroke-width:1.5;stroke:#fff"/>
<path class="k" d="M550.0 358.9 L543.9 355.6" style="stroke-width:2.7"/>
<path class="k" d="M550.0 358.9 L543.9 355.6" style="stroke-width:1.5;stroke:#fff"/>
<path class="k" d="M553.2 358.1 L547.0 354.8" style="stroke-width:2.7"/>
<path class="k" d="M553.2 358.1 L547.0 354.8" style="stroke-width:1.5;stroke:#fff"/>
<path class="k" d="M556.2 357.9 L550.1 354.6" style="stroke-width:2.7"/>
<path class="k" d="M556.2 357.9 L550.1 354.6" style="stroke-width:1.5;stroke:#fff"/>
<path class="k" d="M559.1 358.5 L552.9 355.2" style="stroke-width:2.7"/>
<path class="k" d="M559.1 358.5 L552.9 355.2" style="stroke-width:1.5;stroke:#fff"/>
<path class="l" d="M559.1 361.4 L561.0 359.0 L561.7 359.5 L560.5 362.3 L561.2 362.9 L563.2 360.8 L563.9 361.5 L562.3 364.2 L562.8 364.9 L565.0 363.3 L565.5 364.2 L563.6 366.6 L564.0 367.5 L566.3 366.3 L566.6 367.3 L564.5 369.4 L564.7 370.4 L567.0 369.7 L567.0 370.9 L564.8 372.6 L564.8 373.7 L567.0 373.5 L566.9 374.8 L564.6 376.0 L564.5 377.1 L566.5 377.5 L566.2 378.8 L563.9 379.5 L563.6 380.7 L565.4 381.5 L565.0 382.8 L562.8 383.0 L562.3 384.2 L563.8 385.5 L563.2 386.8 L561.1 386.4 L560.5 387.5 L561.7 389.3 L560.9 390.5 L559.1 389.6 L558.3 390.6 L559.2 392.8 L558.3 393.8 L556.7 392.4 L555.9 393.3 L556.3 395.8 L555.3 396.6 L554.1 394.8 L553.2 395.5 L553.2 398.2 L552.2 398.9 L551.3 396.7 L550.4 397.2 L550.0 400.0 L548.9 400.4 L548.5 398.0 L547.6 398.2 L546.7 401.1 L545.7 401.3 L545.7 398.6 L544.8 398.7 L543.6 401.5 L542.6 401.4 L543.0 398.6 L542.2 398.5 L540.7 401.1 L539.8 400.8 L540.6 397.9 L539.9 397.6 L538.0 400.0 L537.3 399.5 L538.5 396.7 L537.8 396.1 L535.8 398.2 L535.1 397.5 L536.7 394.8 L536.2 394.1 L534.0 395.7 L533.5 394.8 L535.4 392.4 L535.0 391.5 L532.7 392.7 L532.4 391.7 L534.5 389.6 L534.3 388.6 L532.0 389.3 L532.0 388.1 L534.2 386.4 L534.2 385.3 L532.0 385.5 L532.1 384.2 L534.4 383.0 L534.5 381.9 L532.5 381.5 L532.8 380.2 L535.1 379.5 L535.4 378.3 L533.6 377.5 L534.0 376.2 L536.2 376.0 L536.7 374.8 L535.2 373.5 L535.8 372.2 L537.9 372.6 L538.5 371.5 L537.3 369.7 L538.1 368.5 L539.9 369.4 L540.7 368.4 L539.8 366.2 L540.7 365.2 L542.3 366.6 L543.1 365.7 L542.7 363.2 L543.7 362.4 L544.9 364.2 L545.8 363.5 L545.8 360.8 L546.8 360.1 L547.7 362.3 L548.6 361.8 L549.0 359.0 L550.1 358.6 L550.5 361.0 L551.4 360.8 L552.3 357.9 L553.3 357.7 L553.3 360.4 L554.2 360.3 L555.4 357.5 L556.4 357.6 L556.0 360.4 L556.8 360.5 L558.3 357.9 L559.2 358.2 L558.4 361.1Z" style="stroke-width:0.6"/>
<path class="l" d="M559.0 361.7 L560.0 362.3 L560.9 363.0 L561.7 363.9 L562.4 364.9 L563.1 366.0 L563.6 367.2 L564.0 368.5 L564.3 369.9 L564.5 371.3 L564.6 372.8 L564.6 374.4 L564.4 376.0 L564.2 377.6 L563.8 379.3 L563.3 380.9 L562.7 382.6 L562.0 384.2 L561.3 385.8 L560.4 387.3 L559.4 388.8 L558.4 390.2 L557.3 391.5 L556.2 392.7 L554.9 393.8 L553.7 394.9 L552.4 395.8 L551.1 396.5 L549.8 397.2 L548.5 397.7 L547.2 398.1 L545.9 398.3 L544.6 398.4 L543.4 398.3 L542.2 398.2 L541.1 397.8 L540.0 397.3 L539.0 396.7 L538.1 396.0 L537.3 395.1 L536.6 394.1 L535.9 393.0 L535.4 391.8 L535.0 390.5 L534.7 389.1 L534.5 387.7 L534.4 386.2 L534.4 384.6 L534.6 383.0 L534.8 381.4 L535.2 379.7 L535.7 378.1 L536.3 376.4 L537.0 374.8 L537.7 373.2 L538.6 371.7 L539.6 370.2 L540.6 368.8 L541.7 367.5 L542.8 366.3 L544.1 365.2 L545.3 364.1 L546.6 363.2 L547.9 362.5 L549.2 361.8 L550.5 361.3 L551.8 360.9 L553.1 360.7 L554.4 360.6 L555.6 360.7 L556.8 360.8 L557.9 361.2Z" style="stroke-width:0.6"/>
<path class="l" d="M558.3 362.9 C558.6 363.1 559.3 363.5 559.7 363.8 C560.1 364.1 560.5 364.5 560.9 365.0 C561.2 365.4 561.6 365.9 561.8 366.4 C562.1 366.9 562.4 367.5 562.6 368.0 C562.8 368.6 563.0 369.2 563.2 369.9 C563.3 370.5 563.4 371.2 563.5 371.9 C563.5 372.6 563.6 373.3 563.6 374.0 C563.5 374.7 563.5 375.5 563.4 376.2 C563.3 377.0 563.2 377.8 563.0 378.5 C562.8 379.3 562.6 380.1 562.4 380.8 C562.1 381.6 561.8 382.4 561.5 383.1 C561.2 383.9 560.8 384.6 560.4 385.3 C560.1 386.0 559.6 386.8 559.2 387.4 C558.8 388.1 558.3 388.8 557.8 389.4 C557.3 390.1 556.8 390.7 556.2 391.2 C555.7 391.8 555.1 392.3 554.6 392.8 C554.0 393.3 553.4 393.8 552.8 394.2 C552.2 394.6 551.6 395.0 551.0 395.4 C550.4 395.7 549.8 396.0 549.2 396.2 C548.6 396.5 547.9 396.6 547.3 396.8 C546.7 396.9 546.1 397.0 545.5 397.1 C544.9 397.1 544.4 397.1 543.8 397.0 C543.2 397.0 542.7 396.9 542.2 396.7 C541.7 396.6 541.2 396.4 540.7 396.1 C540.2 395.8 539.7 395.5 539.3 395.2 C538.9 394.9 538.5 394.5 538.1 394.0 C537.8 393.6 537.4 393.1 537.2 392.6 C536.9 392.1 536.6 391.5 536.4 391.0 C536.2 390.4 536.0 389.8 535.8 389.1 C535.7 388.5 535.6 387.8 535.5 387.1 C535.5 386.4 535.4 385.7 535.4 385.0 C535.5 384.3 535.5 383.5 535.6 382.8 C535.7 382.0 535.8 381.2 536.0 380.5 C536.2 379.7 536.4 378.9 536.6 378.2 C536.9 377.4 537.2 376.6 537.5 375.9 C537.8 375.1 538.2 374.4 538.6 373.7 C538.9 373.0 539.4 372.2 539.8 371.6 C540.2 370.9 540.7 370.2 541.2 369.6 C541.7 368.9 542.2 368.3 542.8 367.8 C543.3 367.2 543.9 366.7 544.4 366.2 C545.0 365.7 545.6 365.2 546.2 364.8 C546.8 364.4 547.4 364.0 548.0 363.6 C548.6 363.3 549.2 363.0 549.8 362.8 C550.4 362.5 551.1 362.4 551.7 362.2 C552.3 362.1 552.9 362.0 553.5 361.9 C554.1 361.9 554.6 361.9 555.2 362.0 C555.8 362.0 556.3 362.1 556.8 362.3 C557.3 362.4 558.1 362.8 558.3 362.9 C558.6 363.0 558.1 362.8 558.3 362.9Z" />
<path class="k" d="M556.3 366.6 C556.5 366.8 557.1 367.1 557.4 367.3 C557.7 367.6 558.0 367.9 558.3 368.2 C558.6 368.6 558.8 368.9 559.1 369.3 C559.3 369.7 559.5 370.2 559.7 370.6 C559.8 371.1 560.0 371.5 560.1 372.0 C560.2 372.5 560.3 373.1 560.3 373.6 C560.4 374.1 560.4 374.7 560.4 375.2 C560.4 375.8 560.3 376.4 560.3 377.0 C560.2 377.6 560.1 378.2 560.0 378.7 C559.8 379.3 559.7 379.9 559.5 380.5 C559.3 381.1 559.1 381.7 558.8 382.3 C558.6 382.9 558.3 383.5 558.0 384.0 C557.7 384.6 557.4 385.1 557.0 385.7 C556.7 386.2 556.3 386.7 555.9 387.2 C555.5 387.7 555.1 388.1 554.7 388.6 C554.3 389.0 553.9 389.5 553.4 389.8 C553.0 390.2 552.5 390.6 552.1 390.9 C551.6 391.2 551.1 391.5 550.7 391.8 C550.2 392.0 549.7 392.3 549.2 392.5 C548.8 392.6 548.3 392.8 547.8 392.9 C547.4 393.0 546.9 393.1 546.4 393.1 C546.0 393.1 545.5 393.1 545.1 393.1 C544.7 393.0 544.2 393.0 543.8 392.8 C543.4 392.7 543.0 392.6 542.7 392.4 C542.3 392.2 541.9 391.9 541.6 391.7 C541.3 391.4 541.0 391.1 540.7 390.8 C540.4 390.4 540.2 390.1 539.9 389.7 C539.7 389.3 539.5 388.8 539.3 388.4 C539.2 387.9 539.0 387.5 538.9 387.0 C538.8 386.5 538.7 385.9 538.7 385.4 C538.6 384.9 538.6 384.3 538.6 383.8 C538.6 383.2 538.7 382.6 538.7 382.0 C538.8 381.4 538.9 380.8 539.0 380.3 C539.2 379.7 539.3 379.1 539.5 378.5 C539.7 377.9 539.9 377.3 540.2 376.7 C540.4 376.1 540.7 375.5 541.0 375.0 C541.3 374.4 541.6 373.9 542.0 373.3 C542.3 372.8 542.7 372.3 543.1 371.8 C543.5 371.3 543.9 370.9 544.3 370.4 C544.7 370.0 545.1 369.5 545.6 369.2 C546.0 368.8 546.5 368.4 546.9 368.1 C547.4 367.8 547.9 367.5 548.3 367.2 C548.8 367.0 549.3 366.7 549.8 366.5 C550.2 366.4 550.7 366.2 551.2 366.1 C551.6 366.0 552.1 365.9 552.6 365.9 C553.0 365.9 553.5 365.9 553.9 365.9 C554.3 366.0 554.8 366.0 555.2 366.2 C555.6 366.3 556.1 366.6 556.3 366.6 C556.5 366.7 556.2 366.5 556.3 366.6Z" style="stroke-width:0.9"/>
<path class="l" d="M555.7 367.9 C555.8 368.0 556.3 368.3 556.6 368.5 C556.9 368.8 557.2 369.0 557.5 369.3 C557.7 369.6 557.9 370.0 558.1 370.3 C558.3 370.7 558.5 371.1 558.7 371.5 C558.8 371.9 559.0 372.3 559.1 372.8 C559.2 373.2 559.2 373.7 559.3 374.2 C559.3 374.6 559.4 375.2 559.3 375.7 C559.3 376.2 559.3 376.7 559.2 377.2 C559.2 377.7 559.1 378.3 558.9 378.8 C558.8 379.4 558.7 379.9 558.5 380.4 C558.3 381.0 558.1 381.5 557.9 382.0 C557.7 382.5 557.4 383.1 557.2 383.6 C556.9 384.1 556.6 384.6 556.3 385.1 C556.0 385.5 555.6 386.0 555.3 386.4 C555.0 386.9 554.6 387.3 554.2 387.7 C553.8 388.1 553.4 388.5 553.0 388.8 C552.6 389.2 552.2 389.5 551.8 389.8 C551.4 390.1 551.0 390.4 550.6 390.6 C550.1 390.8 549.7 391.0 549.3 391.2 C548.8 391.4 548.4 391.5 548.0 391.6 C547.6 391.7 547.1 391.8 546.7 391.8 C546.3 391.8 545.9 391.8 545.5 391.8 C545.1 391.7 544.7 391.7 544.4 391.6 C544.0 391.4 543.7 391.3 543.3 391.1 C543.0 390.9 542.7 390.7 542.4 390.5 C542.1 390.2 541.8 390.0 541.5 389.7 C541.3 389.4 541.1 389.0 540.9 388.7 C540.7 388.3 540.5 387.9 540.3 387.5 C540.2 387.1 540.0 386.7 539.9 386.2 C539.8 385.8 539.8 385.3 539.7 384.8 C539.7 384.4 539.6 383.8 539.7 383.3 C539.7 382.8 539.7 382.3 539.8 381.8 C539.8 381.3 539.9 380.7 540.1 380.2 C540.2 379.6 540.3 379.1 540.5 378.6 C540.7 378.0 540.9 377.5 541.1 377.0 C541.3 376.5 541.6 375.9 541.8 375.4 C542.1 374.9 542.4 374.4 542.7 373.9 C543.0 373.5 543.4 373.0 543.7 372.6 C544.0 372.1 544.4 371.7 544.8 371.3 C545.2 370.9 545.6 370.5 546.0 370.2 C546.4 369.8 546.8 369.5 547.2 369.2 C547.6 368.9 548.0 368.6 548.4 368.4 C548.9 368.2 549.3 368.0 549.7 367.8 C550.2 367.6 550.6 367.5 551.0 367.4 C551.4 367.3 551.9 367.2 552.3 367.2 C552.7 367.2 553.1 367.2 553.5 367.2 C553.9 367.3 554.3 367.3 554.6 367.4 C555.0 367.6 555.5 367.8 555.7 367.9 C555.9 368.0 555.5 367.8 555.7 367.9Z" />
<path class="lw" d="M553.6 371.8 C553.7 371.9 554.0 372.1 554.2 372.2 C554.4 372.4 554.6 372.6 554.8 372.8 C554.9 373.0 555.1 373.2 555.2 373.4 C555.3 373.7 555.5 373.9 555.6 374.2 C555.7 374.5 555.8 374.8 555.8 375.0 C555.9 375.3 555.9 375.7 556.0 376.0 C556.0 376.3 556.0 376.6 556.0 377.0 C556.0 377.3 556.0 377.6 555.9 378.0 C555.9 378.3 555.8 378.7 555.7 379.0 C555.7 379.4 555.6 379.8 555.4 380.1 C555.3 380.5 555.2 380.8 555.1 381.2 C554.9 381.5 554.7 381.9 554.6 382.2 C554.4 382.5 554.2 382.9 554.0 383.2 C553.8 383.5 553.6 383.8 553.3 384.1 C553.1 384.4 552.9 384.7 552.6 384.9 C552.4 385.2 552.1 385.4 551.8 385.7 C551.6 385.9 551.3 386.1 551.0 386.3 C550.8 386.5 550.5 386.7 550.2 386.8 C549.9 387.0 549.6 387.1 549.3 387.2 C549.1 387.3 548.8 387.4 548.5 387.5 C548.2 387.6 547.9 387.6 547.7 387.6 C547.4 387.6 547.1 387.6 546.9 387.6 C546.6 387.6 546.4 387.5 546.1 387.5 C545.9 387.4 545.6 387.3 545.4 387.2 C545.2 387.1 545.0 386.9 544.8 386.8 C544.6 386.6 544.4 386.4 544.2 386.2 C544.1 386.0 543.9 385.8 543.8 385.6 C543.7 385.3 543.5 385.1 543.4 384.8 C543.3 384.5 543.2 384.2 543.2 384.0 C543.1 383.7 543.1 383.3 543.0 383.0 C543.0 382.7 543.0 382.4 543.0 382.0 C543.0 381.7 543.0 381.4 543.1 381.0 C543.1 380.7 543.2 380.3 543.3 380.0 C543.3 379.6 543.4 379.2 543.6 378.9 C543.7 378.5 543.8 378.2 543.9 377.8 C544.1 377.5 544.3 377.1 544.4 376.8 C544.6 376.5 544.8 376.1 545.0 375.8 C545.2 375.5 545.4 375.2 545.7 374.9 C545.9 374.6 546.1 374.3 546.4 374.1 C546.6 373.8 546.9 373.6 547.2 373.3 C547.4 373.1 547.7 372.9 548.0 372.7 C548.2 372.5 548.5 372.3 548.8 372.2 C549.1 372.0 549.4 371.9 549.7 371.8 C549.9 371.7 550.2 371.6 550.5 371.5 C550.8 371.4 551.1 371.4 551.3 371.4 C551.6 371.4 551.9 371.4 552.1 371.4 C552.4 371.4 552.6 371.5 552.9 371.5 C553.1 371.6 553.5 371.8 553.6 371.8 C553.7 371.9 553.5 371.8 553.6 371.8Z" style="stroke-width:1.1;stroke:#000"/>
<path class="l" d="M550.9 371.3 C551.0 371.6 551.4 372.4 551.5 373.0 C551.6 373.6 551.6 374.3 551.6 375.0 C551.5 375.6 551.4 376.4 551.2 377.1 C551.1 377.8 550.8 378.5 550.5 379.2 C550.2 379.8 549.8 380.5 549.4 381.1 C548.9 381.7 548.5 382.3 547.9 382.8 C547.4 383.3 546.9 383.8 546.3 384.1 C545.8 384.5 544.9 384.8 544.6 385.0" />
<path class="k" d="M557.1 366.6 C557.1 366.9 556.9 367.2 556.7 367.3 C556.5 367.4 556.1 367.4 555.9 367.3 C555.7 367.2 555.5 366.9 555.5 366.6 C555.5 366.4 555.7 366.1 555.9 365.9 C556.1 365.8 556.5 365.8 556.7 365.9 C556.9 366.1 557.1 366.4 557.1 366.6Z" style="stroke-width:0.9"/>
<path class="k" d="M559.0 383.6 C559.0 383.8 558.8 384.1 558.6 384.3 C558.4 384.4 558.0 384.4 557.8 384.3 C557.6 384.1 557.4 383.8 557.4 383.6 C557.4 383.3 557.6 383.0 557.8 382.9 C558.0 382.8 558.4 382.8 558.6 382.9 C558.8 383.0 559.0 383.3 559.0 383.6Z" style="stroke-width:0.9"/>
<path class="k" d="M544.1 392.6 C544.1 392.9 543.9 393.2 543.7 393.3 C543.5 393.5 543.1 393.5 542.9 393.3 C542.7 393.2 542.5 392.9 542.5 392.6 C542.5 392.4 542.7 392.1 542.9 392.0 C543.1 391.8 543.5 391.8 543.7 392.0 C543.9 392.1 544.1 392.4 544.1 392.6Z" style="stroke-width:0.9"/>
<path class="k" d="M540.4 378.2 C540.4 378.5 540.2 378.8 540.0 378.9 C539.8 379.0 539.4 379.0 539.2 378.9 C539.0 378.8 538.8 378.5 538.8 378.2 C538.8 378.0 539.0 377.7 539.2 377.5 C539.4 377.4 539.8 377.4 540.0 377.5 C540.2 377.7 540.4 378.0 540.4 378.2Z" style="stroke-width:0.9"/>
<path class="lw" d="M484.5 332.5 L474.7 326.5 L474.7 326.5 C474.6 326.4 474.2 326.3 474.0 326.3 C473.7 326.3 473.4 326.3 473.1 326.4 C472.8 326.5 472.5 326.7 472.1 326.9 C471.8 327.2 471.4 327.5 471.1 327.8 C470.8 328.1 470.4 328.5 470.1 328.9 C469.8 329.3 469.5 329.7 469.2 330.1 C469.0 330.6 468.7 331.1 468.5 331.5 C468.3 332.0 468.1 332.4 468.0 332.9 C467.8 333.3 467.7 333.8 467.7 334.2 C467.6 334.6 467.6 335.0 467.7 335.3 C467.7 335.6 467.8 335.9 467.9 336.1 C468.0 336.4 468.3 336.6 468.4 336.7 L478.2 342.7Z" style="stroke:none"/>
<path class="l" d="M484.5 332.5 L474.7 326.5 L474.7 326.5 C474.6 326.4 474.2 326.3 474.0 326.3 C473.7 326.3 473.4 326.3 473.1 326.4 C472.8 326.5 472.5 326.7 472.1 326.9 C471.8 327.2 471.4 327.5 471.1 327.8 C470.8 328.1 470.4 328.5 470.1 328.9 C469.8 329.3 469.5 329.7 469.2 330.1 C469.0 330.6 468.7 331.1 468.5 331.5 C468.3 332.0 468.1 332.4 468.0 332.9 C467.8 333.3 467.7 333.8 467.7 334.2 C467.6 334.6 467.6 335.0 467.7 335.3 C467.7 335.6 467.8 335.9 467.9 336.1 C468.0 336.4 468.3 336.6 468.4 336.7 L478.2 342.7" />
<path class="lw" d="M483.8 330.1 C485.6 328.0 487.4 326.4 489.5 325.0 C491.6 323.5 494.1 322.4 496.4 321.5 C498.7 320.6 501.0 319.8 503.3 319.8 C505.6 319.8 508.4 320.5 510.2 321.5 C512.1 322.6 513.5 324.4 514.3 326.1 C515.1 327.8 515.5 329.7 515.1 331.9 C514.7 334.1 513.3 337.1 512.0 339.3 C510.6 341.5 508.6 343.3 506.8 345.1 C505.0 346.9 502.9 348.8 501.0 350.3 C499.1 351.8 497.4 353.1 495.3 354.0 C493.2 354.8 490.3 355.6 488.4 355.6 C486.5 355.5 485.4 354.8 483.8 353.7 C482.1 352.7 479.6 350.9 478.6 349.4 C477.5 347.8 477.4 346.5 477.4 344.5 C477.4 342.6 477.5 340.0 478.6 337.6 C479.6 335.2 481.9 332.2 483.8 330.1Z" style="stroke-width:0.8"/>
<path class="k" d="M478.6 337.6 C479.0 336.4 480.0 331.7 480.9 330.5 C481.8 329.2 483.3 330.2 483.8 330.1" style="stroke-width:1.5"/>
<path class="l" d="M477.8 339.3 C478.1 338.1 478.6 333.5 479.4 331.9 C480.2 330.3 481.9 330.1 482.4 329.8" />
<path class="l" d="M485.8 343.6 C486.5 342.6 487.4 340.0 489.5 337.6 C491.7 335.3 495.9 331.6 498.7 329.6 C501.6 327.5 504.2 326.1 506.8 325.5 C509.4 325.0 513.0 326.0 514.3 326.1" />
<path class="l" d="M477.8 344.5 L485.8 343.6 L486.3 354.9" />
<path class="lw" d="M514.7 350.1 L503.6 343.3 L503.6 343.3 C503.5 343.3 503.2 343.1 503.0 343.1 C502.7 343.1 502.4 343.2 502.2 343.3 C501.9 343.4 501.6 343.6 501.2 343.8 C500.9 344.0 500.6 344.3 500.3 344.6 C500.0 344.9 499.7 345.2 499.4 345.6 C499.1 346.0 498.8 346.4 498.5 346.8 C498.3 347.2 498.1 347.6 497.9 348.1 C497.7 348.5 497.5 348.9 497.4 349.3 C497.2 349.7 497.1 350.2 497.1 350.5 C497.0 350.9 497.0 351.3 497.1 351.6 C497.1 351.9 497.2 352.1 497.3 352.4 C497.4 352.6 497.7 352.8 497.8 352.9 L508.8 359.7Z" style="stroke:none"/>
<path class="l" d="M514.7 350.1 L503.6 343.3 L503.6 343.3 C503.5 343.3 503.2 343.1 503.0 343.1 C502.7 343.1 502.4 343.2 502.2 343.3 C501.9 343.4 501.6 343.6 501.2 343.8 C500.9 344.0 500.6 344.3 500.3 344.6 C500.0 344.9 499.7 345.2 499.4 345.6 C499.1 346.0 498.8 346.4 498.5 346.8 C498.3 347.2 498.1 347.6 497.9 348.1 C497.7 348.5 497.5 348.9 497.4 349.3 C497.2 349.7 497.1 350.2 497.1 350.5 C497.0 350.9 497.0 351.3 497.1 351.6 C497.1 351.9 497.2 352.1 497.3 352.4 C497.4 352.6 497.7 352.8 497.8 352.9 L508.8 359.7" />
<path class="l" d="M495.5 351.4 C495.5 350.7 494.7 348.2 495.3 346.8 C495.8 345.5 497.4 344.2 498.7 343.4 C500.1 342.5 502.1 341.6 503.3 341.6 C504.6 341.6 505.7 343.1 506.2 343.4" />
<path class="lw" d="M520.6 351.9 L515.5 348.8 L515.5 348.8 C515.4 348.7 514.9 348.5 514.5 348.5 C514.2 348.5 513.8 348.6 513.3 348.7 C512.9 348.9 512.4 349.2 512.0 349.5 C511.5 349.8 511.0 350.2 510.5 350.6 C510.1 351.1 509.6 351.6 509.2 352.2 C508.7 352.7 508.3 353.3 507.9 353.9 C507.5 354.6 507.2 355.2 506.9 355.9 C506.6 356.5 506.3 357.2 506.1 357.8 C506.0 358.4 505.8 359.0 505.7 359.6 C505.7 360.1 505.7 360.7 505.7 361.1 C505.8 361.6 505.9 362.0 506.0 362.3 C506.2 362.7 506.6 363.0 506.7 363.1 L511.8 366.2Z" style="stroke:none"/>
<path class="l" d="M520.6 351.9 L515.5 348.8 L515.5 348.8 C515.4 348.7 514.9 348.5 514.5 348.5 C514.2 348.5 513.8 348.6 513.3 348.7 C512.9 348.9 512.4 349.2 512.0 349.5 C511.5 349.8 511.0 350.2 510.5 350.6 C510.1 351.1 509.6 351.6 509.2 352.2 C508.7 352.7 508.3 353.3 507.9 353.9 C507.5 354.6 507.2 355.2 506.9 355.9 C506.6 356.5 506.3 357.2 506.1 357.8 C506.0 358.4 505.8 359.0 505.7 359.6 C505.7 360.1 505.7 360.7 505.7 361.1 C505.8 361.6 505.9 362.0 506.0 362.3 C506.2 362.7 506.6 363.0 506.7 363.1 L511.8 366.2" />
<path class="k" d="M506.7 363.1 C506.6 363.0 506.2 362.7 506.0 362.3 C505.9 362.0 505.8 361.6 505.7 361.1 C505.7 360.7 505.7 360.1 505.7 359.6 C505.8 359.0 506.0 358.4 506.1 357.8 C506.3 357.2 506.6 356.5 506.9 355.9 C507.2 355.2 507.5 354.6 507.9 353.9 C508.3 353.3 508.7 352.7 509.2 352.2 C509.6 351.6 510.1 351.1 510.5 350.6 C511.0 350.2 511.5 349.8 512.0 349.5 C512.4 349.2 512.9 348.9 513.3 348.7 C513.8 348.6 514.2 348.5 514.5 348.5 C514.9 348.5 515.4 348.7 515.5 348.8" style="stroke-width:1.5"/>
<path class="lw" d="M524.2 355.7 L519.9 353.1 L519.9 353.1 C519.8 353.1 519.4 352.9 519.1 352.9 C518.8 352.9 518.4 352.9 518.1 353.1 C517.7 353.2 517.3 353.4 516.9 353.7 C516.6 354.0 516.1 354.3 515.8 354.7 C515.4 355.0 515.0 355.5 514.6 355.9 C514.2 356.4 513.9 356.9 513.6 357.4 C513.2 357.9 512.9 358.5 512.7 359.0 C512.5 359.6 512.2 360.1 512.1 360.6 C511.9 361.1 511.8 361.7 511.8 362.1 C511.7 362.6 511.7 363.0 511.7 363.4 C511.8 363.8 511.9 364.1 512.0 364.4 C512.1 364.7 512.5 364.9 512.6 365.0 L516.8 367.7Z" style="stroke:none"/>
<path class="l" d="M524.2 355.7 L519.9 353.1 L519.9 353.1 C519.8 353.1 519.4 352.9 519.1 352.9 C518.8 352.9 518.4 352.9 518.1 353.1 C517.7 353.2 517.3 353.4 516.9 353.7 C516.6 354.0 516.1 354.3 515.8 354.7 C515.4 355.0 515.0 355.5 514.6 355.9 C514.2 356.4 513.9 356.9 513.6 357.4 C513.2 357.9 512.9 358.5 512.7 359.0 C512.5 359.6 512.2 360.1 512.1 360.6 C511.9 361.1 511.8 361.7 511.8 362.1 C511.7 362.6 511.7 363.0 511.7 363.4 C511.8 363.8 511.9 364.1 512.0 364.4 C512.1 364.7 512.5 364.9 512.6 365.0 L516.8 367.7" />
<path class="lw" d="M529.2 360.5 L523.6 356.6 L523.6 356.6 C523.5 356.5 523.2 356.4 522.9 356.4 C522.7 356.4 522.4 356.4 522.1 356.6 C521.8 356.7 521.4 356.9 521.1 357.1 C520.8 357.3 520.4 357.6 520.1 357.9 C519.7 358.2 519.4 358.6 519.1 359.0 C518.8 359.4 518.5 359.8 518.2 360.3 C517.9 360.7 517.7 361.2 517.5 361.6 C517.3 362.1 517.1 362.6 516.9 363.0 C516.8 363.5 516.7 363.9 516.7 364.3 C516.6 364.7 516.6 365.1 516.6 365.4 C516.7 365.7 516.7 366.0 516.9 366.3 C517.0 366.5 517.3 366.7 517.4 366.8 L523.4 370.0Z" style="stroke:none"/>
<path class="l" d="M529.2 360.5 L523.6 356.6 L523.6 356.6 C523.5 356.5 523.2 356.4 522.9 356.4 C522.7 356.4 522.4 356.4 522.1 356.6 C521.8 356.7 521.4 356.9 521.1 357.1 C520.8 357.3 520.4 357.6 520.1 357.9 C519.7 358.2 519.4 358.6 519.1 359.0 C518.8 359.4 518.5 359.8 518.2 360.3 C517.9 360.7 517.7 361.2 517.5 361.6 C517.3 362.1 517.1 362.6 516.9 363.0 C516.8 363.5 516.7 363.9 516.7 364.3 C516.6 364.7 516.6 365.1 516.6 365.4 C516.7 365.7 516.7 366.0 516.9 366.3 C517.0 366.5 517.3 366.7 517.4 366.8 L523.4 370.0" />
<path class="k" d="M516.8 367.7 C516.7 367.5 516.4 367.3 516.3 367.0 C516.1 366.8 516.0 366.4 516.0 366.0 C515.9 365.6 515.9 365.2 516.0 364.7 C516.1 364.3 516.2 363.8 516.3 363.2 C516.5 362.7 516.7 362.2 517.0 361.6 C517.2 361.1 517.5 360.6 517.8 360.0 C518.1 359.5 518.5 359.0 518.9 358.6 C519.2 358.1 519.6 357.7 520.0 357.3 C520.4 356.9 520.8 356.6 521.2 356.3 C521.6 356.0 522.0 355.8 522.3 355.7 C522.7 355.6 523.0 355.5 523.3 355.5 C523.7 355.5 524.0 355.7 524.2 355.7" style="stroke-width:1.2"/>
<path class="lw" d="M523.6 369.7 C523.9 369.9 524.2 370.0 524.6 370.0 C525.0 370.0 525.5 369.9 525.9 369.7 C526.3 369.5 526.8 369.2 527.2 368.9 C527.7 368.5 528.1 368.1 528.4 367.6 C528.8 367.2 529.1 366.6 529.4 366.1 C529.6 365.6 529.8 365.0 530.0 364.5 C530.1 363.9 530.1 363.4 530.1 362.9 C530.1 362.4 529.9 362.0 529.8 361.7 C529.6 361.3 529.3 361.0 529.0 360.8 C528.7 360.6 528.3 360.5 527.9 360.5 C527.6 360.5 527.1 360.6 526.7 360.8 C526.2 361.0 525.8 361.3 525.4 361.6 C524.9 362.0 524.5 362.4 524.1 362.9 C523.8 363.3 523.5 363.9 523.2 364.4 C522.9 364.9 522.7 365.5 522.6 366.1 C522.5 366.6 522.5 367.1 522.5 367.6 C522.5 368.1 522.6 368.5 522.8 368.9 C523.0 369.2 523.3 369.5 523.6 369.7Z" style="stroke-width:0.9"/>
<path class="k" d="M524.9 368.3 C525.1 368.4 525.3 368.5 525.6 368.5 C525.8 368.5 526.1 368.4 526.4 368.3 C526.7 368.2 527.0 368.0 527.2 367.8 C527.5 367.5 527.8 367.3 528.0 367.0 C528.2 366.7 528.4 366.3 528.6 366.0 C528.8 365.7 528.9 365.3 529.0 365.0 C529.0 364.6 529.1 364.3 529.0 364.0 C529.0 363.7 528.9 363.4 528.8 363.2 C528.7 363.0 528.6 362.8 528.4 362.7 C528.2 362.5 527.9 362.5 527.7 362.5 C527.4 362.5 527.1 362.5 526.9 362.6 C526.6 362.8 526.3 362.9 526.0 363.2 C525.8 363.4 525.5 363.7 525.3 364.0 C525.0 364.2 524.8 364.6 524.7 364.9 C524.5 365.3 524.4 365.6 524.3 366.0 C524.2 366.3 524.2 366.7 524.2 367.0 C524.2 367.2 524.3 367.5 524.4 367.8 C524.5 368.0 524.7 368.2 524.9 368.3Z" style="stroke-width:1.2"/>
<path class="lw" d="M398.8 341.6 L401.3 340.6 L406.8 344.2 L404.6 345.4Z" />
<path class="l" d="M398.8 341.6 L399.2 343.2 L404.8 346.8 L404.6 345.4" />
<path class="l" d="M404.8 346.8 L406.9 345.6 L406.8 344.2" />
<path class="lw" d="M45.1 514.0 L59.7 496.2 L62.2 498.9 L64.8 517.9 L48.9 516.3Z" style="stroke-width:0.8"/>
<path class="l" d="M48.9 516.3 L62.1 498.9" />
<path class="lw" d="M63.2 498.6 L79.9 490.1 L83.1 492.4 L84.5 502.4 L64.8 513.3 L62.2 503.2Z" style="stroke-width:0.8"/>
<path class="l" d="M62.2 503.2 L81.4 493.8 L83.1 492.4" />
<path class="l" d="M81.4 493.8 L84.5 502.4" />
<path class="ld" d="M455.1 72.5 L471.3 82.4" />
<path class="ld" d="M445.2 103.0 L453.3 112.0" />
<path class="ld" d="M417.6 106.2 L428.0 117.4" />
<path class="ld" d="M524.6 165.3 L517.0 170.3" />
<path class="ld" d="M513.1 198.0 L521.8 191.2" />
<path class="ld" d="M446.9 213.8 L458.2 223.6" />
<path class="ld" d="M445.9 287.4 L437.9 277.6" />
<path class="ld" d="M445.9 287.4 L422.7 288.3" />
<path class="ld" d="M400.4 293.7 L381.7 254.4" />
<path class="ld" d="M417.4 267.8 L396.9 250.0" />
<path class="ld" d="M361.3 277.7 L351.1 277.0" />
<path class="ld" d="M361.3 277.7 L367.0 286.0" />
<path class="ld" d="M120.4 293.6 L147.3 292.8" />
<path class="ld" d="M406.8 345.2 L417.5 346.0" />
<path class="ld" d="M487.7 300.8 L513.2 302.4" />
<path class="ld" d="M566.9 368.0 L575.8 369.3" />
<path class="ld" d="M358.6 470.3 L383.8 470.3" />
<path class="ld" d="M401.5 345.3 L391.0 362.5" />
<path class="ld" d="M386.6 369.8 L382.9 376.2" />
<path class="ld" d="M379.2 382.6 L368.5 400.0" />
<path class="ld" d="M439.1 461.1 L478.0 435.5" />
<path class="ld" d="M484.6 430.5 L490.4 427.2" />
<path class="ld" d="M496.2 423.0 L531.0 399.0" />
<path class="ld" d="M431.8 117.2 L444.6 126.0" />
<text class="lb" transform="translate(440.9,73.7) scale(0.8,1)" font-size="13.3">10</text>
<text class="lb" transform="translate(439.6,103.2) scale(0.8,1)" font-size="13.3">7</text>
<text class="lb" transform="translate(411.8,105.4) scale(0.8,1)" font-size="13.3">4</text>
<text class="lb" transform="translate(524.7,168.4) scale(0.8,1)" font-size="13.3">8</text>
<text class="lb" transform="translate(504.2,205.8) scale(0.8,1)" font-size="13.3">4</text>
<text class="lb" transform="translate(458.8,231.2) scale(0.8,1)" font-size="13.3">3</text>
<text class="lb" transform="translate(446.6,294.8) scale(0.8,1)" font-size="13.3">1</text>
<text class="lb" transform="translate(362.4,277.9) scale(0.8,1)" font-size="13.3">2</text>
<text class="lb" transform="translate(113.8,299.4) scale(0.8,1)" font-size="13.3">6</text>
<text class="lb" transform="translate(418.6,351.3) scale(0.8,1)" font-size="13.3">5</text>
<text class="lb" transform="translate(516.6,308.6) scale(0.8,1)" font-size="13.3">11</text>
<text class="lb" transform="translate(577,376.5) scale(0.8,1)" font-size="13.3">12</text>
<text class="lb" transform="translate(351.3,477) scale(0.8,1)" font-size="13.3">9</text>
<text class="lb" transform="translate(395.1,304.6) scale(0.76,1)" font-size="11.3">MARK</text>
<text transform="translate(61.8,512.9) rotate(-26) skewX(-12) scale(0.8,1)" font-family="'Liberation Serif',serif" font-weight="bold" font-size="11.5" fill="#000" stroke="#000" stroke-width="0.3">FWD</text>
<path d="M626.3 499.9 A16.2 16.2 0 0 1 654.6 499.9" style="fill:none;stroke:#111;stroke-width:1.7;stroke-linecap:butt"/>
<path d="M656.5 505.5 A16.2 16.2 0 1 1 624.4 505.5" style="fill:none;stroke:#111;stroke-width:1.7;stroke-linecap:butt"/>
<path d="M620.7 500.2 C621.7 500.5 624.5 501.6 626.6 502.1 C628.8 502.6 631.7 503.2 633.8 503.5 C636.0 503.8 638.6 503.9 639.6 504.0 L639.6 506.1 C638.1 506.0 633.6 505.7 630.9 505.3 C628.3 504.8 625.5 504.2 623.8 503.4 C622.1 502.6 621.2 500.8 620.7 500.2Z" style="fill:#111;stroke:none"/>
<path d="M660.2 500.2 C659.2 500.5 656.4 501.6 654.3 502.1 C652.1 502.6 649.2 503.2 647.1 503.5 C644.9 503.8 642.3 503.9 641.3 504.0 L641.3 506.1 C642.7 506.0 647.3 505.7 649.9 505.3 C652.6 504.8 655.4 504.2 657.1 503.4 C658.8 502.6 659.7 500.8 660.2 500.2Z" style="fill:#111;stroke:none"/>
<path d="M624.8 507.1 C625.9 507.4 628.9 508.2 630.9 508.4 C633.0 508.7 636.1 508.6 637.1 508.6 L637.1 511.5 C635.7 511.2 630.8 510.9 628.8 510.2 C626.7 509.4 625.5 507.6 624.8 507.1Z" style="fill:#111;stroke:none"/>
<path d="M656.1 507.1 C655.0 507.4 652.0 508.2 649.9 508.4 C647.9 508.7 644.8 508.6 643.8 508.6 L643.8 511.5 C645.1 511.2 650.1 510.9 652.1 510.2 C654.2 509.4 655.4 507.6 656.1 507.1Z" style="fill:#111;stroke:none"/>
<path d="M629.9 514.3 C630.5 514.4 632.6 515.1 633.8 515.3 C635.0 515.5 636.6 515.5 637.1 515.5 L637.1 518.4 C636.4 518.2 634.0 517.8 632.7 517.1 C631.5 516.5 630.4 514.7 629.9 514.3Z" style="fill:#111;stroke:none"/>
<path d="M651.0 514.3 C650.4 514.4 648.3 515.1 647.1 515.3 C645.9 515.5 644.3 515.5 643.8 515.5 L643.8 518.4 C644.5 518.2 646.9 517.8 648.1 517.1 C649.4 516.5 650.5 514.7 651.0 514.3Z" style="fill:#111;stroke:none"/>
<path d="M637.1 504.0 L639.6 504.0 L639.6 519.4 L637.1 517.6Z" style="fill:#111;stroke:none"/>
<path d="M643.8 504.0 L641.3 504.0 L641.3 519.4 L643.8 517.6Z" style="fill:#111;stroke:none"/>
<text transform="translate(667.6,504.7) skewX(-18) scale(1.36,1)" font-family="'Liberation Sans',sans-serif" font-weight="bold" font-size="8.5" fill="#111" stroke="#111" stroke-width="0.25">POWERSPORTS</text>
<text transform="translate(661.5,518.4) skewX(-18) scale(1.57,1)" font-family="'Liberation Sans',sans-serif" font-weight="bold" font-size="14.9" fill="#111" stroke="#111" stroke-width="0.7">EMPIRE</text>
</g>
<g class="wm">
<text transform="translate(793.7,-134.8) rotate(35)">POWERSPORTS EMPIRE</text>
<text transform="translate(765.5,-93.3) rotate(35)">POWERSPORTS EMPIRE</text>
<text transform="translate(737.3,-51.8) rotate(35)">POWERSPORTS EMPIRE</text>
<text transform="translate(546.6,-154.6) rotate(35)">POWERSPORTS EMPIRE</text>
<text transform="translate(709.0,-10.2) rotate(35)">POWERSPORTS EMPIRE</text>
<text transform="translate(518.4,-113.1) rotate(35)">POWERSPORTS EMPIRE</text>
<text transform="translate(680.8,31.3) rotate(35)">POWERSPORTS EMPIRE</text>
<text transform="translate(490.2,-71.6) rotate(35)">POWERSPORTS EMPIRE</text>
<text transform="translate(652.6,72.8) rotate(35)">POWERSPORTS EMPIRE</text>
<text transform="translate(462.0,-30.0) rotate(35)">POWERSPORTS EMPIRE</text>
<text transform="translate(274.6,-130.6) rotate(35)">POWERSPORTS EMPIRE</text>
<text transform="translate(624.4,114.3) rotate(35)">POWERSPORTS EMPIRE</text>
<text transform="translate(433.7,11.5) rotate(35)">POWERSPORTS EMPIRE</text>
<text transform="translate(783.5,256.4) rotate(35)">POWERSPORTS EMPIRE</text>
<text transform="translate(246.4,-89.1) rotate(35)">POWERSPORTS EMPIRE</text>
<text transform="translate(596.2,155.8) rotate(35)">POWERSPORTS EMPIRE</text>
<text transform="translate(405.5,53.0) rotate(35)">POWERSPORTS EMPIRE</text>
<text transform="translate(755.3,297.9) rotate(35)">POWERSPORTS EMPIRE</text>
<text transform="translate(218.2,-47.5) rotate(35)">POWERSPORTS EMPIRE</text>
<text transform="translate(567.9,197.4) rotate(35)">POWERSPORTS EMPIRE</text>
<text transform="translate(27.5,-150.4) rotate(35)">POWERSPORTS EMPIRE</text>
<text transform="translate(377.3,94.5) rotate(35)">POWERSPORTS EMPIRE</text>
<text transform="translate(727.1,339.4) rotate(35)">POWERSPORTS EMPIRE</text>
<text transform="translate(189.9,-6.0) rotate(35)">POWERSPORTS EMPIRE</text>
<text transform="translate(539.7,238.9) rotate(35)">POWERSPORTS EMPIRE</text>
<text transform="translate(-0.7,-108.9) rotate(35)">POWERSPORTS EMPIRE</text>
<text transform="translate(349.1,136.0) rotate(35)">POWERSPORTS EMPIRE</text>
<text transform="translate(698.9,381.0) rotate(35)">POWERSPORTS EMPIRE</text>
<text transform="translate(161.7,35.5) rotate(35)">POWERSPORTS EMPIRE</text>
<text transform="translate(511.5,280.4) rotate(35)">POWERSPORTS EMPIRE</text>
<text transform="translate(-29.2,-67.5) rotate(35)">POWERSPORTS EMPIRE</text>
<text transform="translate(320.6,177.4) rotate(35)">POWERSPORTS EMPIRE</text>
<text transform="translate(670.4,422.3) rotate(35)">POWERSPORTS EMPIRE</text>
<text transform="translate(-216.9,-168.3) rotate(35)">POWERSPORTS EMPIRE</text>
<text transform="translate(132.9,76.6) rotate(35)">POWERSPORTS EMPIRE</text>
<text transform="translate(482.7,321.5) rotate(35)">POWERSPORTS EMPIRE</text>
<text transform="translate(-58.0,-26.4) rotate(35)">POWERSPORTS EMPIRE</text>
<text transform="translate(291.8,218.5) rotate(35)">POWERSPORTS EMPIRE</text>
<text transform="translate(641.6,463.4) rotate(35)">POWERSPORTS EMPIRE</text>
<text transform="translate(-245.6,-127.2) rotate(35)">POWERSPORTS EMPIRE</text>
<text transform="translate(104.1,117.7) rotate(35)">POWERSPORTS EMPIRE</text>
<text transform="translate(453.9,362.7) rotate(35)">POWERSPORTS EMPIRE</text>
<text transform="translate(-86.8,14.7) rotate(35)">POWERSPORTS EMPIRE</text>
<text transform="translate(263.0,259.6) rotate(35)">POWERSPORTS EMPIRE</text>
<text transform="translate(612.8,504.5) rotate(35)">POWERSPORTS EMPIRE</text>
<text transform="translate(75.3,158.9) rotate(35)">POWERSPORTS EMPIRE</text>
<text transform="translate(425.1,403.8) rotate(35)">POWERSPORTS EMPIRE</text>
<text transform="translate(-115.6,55.8) rotate(35)">POWERSPORTS EMPIRE</text>
<text transform="translate(234.2,300.7) rotate(35)">POWERSPORTS EMPIRE</text>
<text transform="translate(584.0,545.7) rotate(35)">POWERSPORTS EMPIRE</text>
<text transform="translate(46.5,200.0) rotate(35)">POWERSPORTS EMPIRE</text>
<text transform="translate(396.3,444.9) rotate(35)">POWERSPORTS EMPIRE</text>
<text transform="translate(-144.4,96.9) rotate(35)">POWERSPORTS EMPIRE</text>
<text transform="translate(205.4,341.9) rotate(35)">POWERSPORTS EMPIRE</text>
<text transform="translate(17.8,241.1) rotate(35)">POWERSPORTS EMPIRE</text>
<text transform="translate(367.5,486.0) rotate(35)">POWERSPORTS EMPIRE</text>
<text transform="translate(-173.2,138.1) rotate(35)">POWERSPORTS EMPIRE</text>
<text transform="translate(176.6,383.0) rotate(35)">POWERSPORTS EMPIRE</text>
<text transform="translate(-11.0,282.2) rotate(35)">POWERSPORTS EMPIRE</text>
<text transform="translate(338.7,527.1) rotate(35)">POWERSPORTS EMPIRE</text>
<text transform="translate(-202.0,179.2) rotate(35)">POWERSPORTS EMPIRE</text>
<text transform="translate(147.8,424.1) rotate(35)">POWERSPORTS EMPIRE</text>
<text transform="translate(-39.8,323.3) rotate(35)">POWERSPORTS EMPIRE</text>
<text transform="translate(309.9,568.3) rotate(35)">POWERSPORTS EMPIRE</text>
<text transform="translate(-230.8,220.3) rotate(35)">POWERSPORTS EMPIRE</text>
<text transform="translate(119.0,465.2) rotate(35)">POWERSPORTS EMPIRE</text>
<text transform="translate(-68.6,364.5) rotate(35)">POWERSPORTS EMPIRE</text>
<text transform="translate(-259.6,261.4) rotate(35)">POWERSPORTS EMPIRE</text>
<text transform="translate(90.2,506.3) rotate(35)">POWERSPORTS EMPIRE</text>
<text transform="translate(-97.4,405.6) rotate(35)">POWERSPORTS EMPIRE</text>
<text transform="translate(61.4,547.5) rotate(35)">POWERSPORTS EMPIRE</text>
<text transform="translate(-126.2,446.7) rotate(35)">POWERSPORTS EMPIRE</text>
<text transform="translate(-155.0,487.8) rotate(35)">POWERSPORTS EMPIRE</text>
<text transform="translate(-183.8,529.0) rotate(35)">POWERSPORTS EMPIRE</text>
<text transform="translate(-212.6,570.1) rotate(35)">POWERSPORTS EMPIRE</text>
</g>
</svg>
</body></html>
